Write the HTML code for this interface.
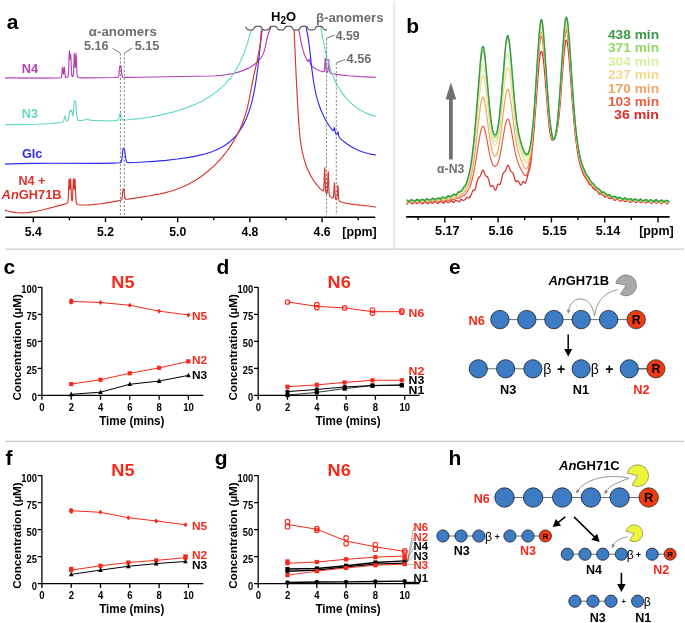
<!DOCTYPE html><html><head><meta charset="utf-8"><style>html,body{margin:0;padding:0;background:#fff;}svg{display:block;will-change:transform;font-family:"Liberation Sans",sans-serif;}</style></head><body>
<svg width="685" height="623" viewBox="0 0 685 623">
<rect width="685" height="623" fill="#fff"/>
<line x1="394.1" y1="1.2" x2="394.1" y2="249.1" stroke="#dcdcdc" stroke-width="1.2" />
<line x1="4.9" y1="249.1" x2="684" y2="249.1" stroke="#cecece" stroke-width="1.2" />
<line x1="4.9" y1="441.4" x2="684" y2="441.4" stroke="#c6c6c6" stroke-width="1.2" />
<path d="M5,77.94L45.3,78.12L56.6,78.04L60.3,77.84L60.8,77.71L61.1,77.51L61.3,77.19L61.5,76.52L61.8,74.33L62.3,68.31L62.5,67.27L62.7,68.19L63.2,73.4L63.4,74.08L63.6,73.38L64.1,68.14L64.3,67.2L64.5,68.23L65.1,75.11L65.4,76.75L65.6,77.19L66,77.46L66.6,77.49L67.3,77.33L67.7,77.08L68,76.6L68.2,75.81L68.4,74.13L68.7,68.69L69.2,53.62L69.4,50.71L69.5,50.98L69.9,57.75L70.1,59.3L70.2,58.96L70.6,54.53L70.7,54.43L70.9,57.01L71.6,73.25L71.9,75.77L72.1,76.4L72.3,76.65L72.5,76.73L72.9,76.55L73.1,76.12L73.3,75.1L73.5,72.99L74.2,55.61L74.4,53.23L74.6,55.3L75,64.95L75.2,67.43L75.3,67.47L75.4,66.68L75.9,55.81L76.1,53.8L76.3,56.16L76.9,71.69L77.2,75.42L77.4,76.47L77.7,77.09L78.3,77.47L79.3,77.69L81.2,77.83L84.7,77.88L101.9,77.75L114.4,77.55L116.6,77.44L117.8,77.25L118.2,77.06L118.4,76.83L118.8,75.52L119.1,73.12L119.6,67.29L119.8,66.02L119.9,65.88L120.4,67.03L120.8,66.02L120.9,65.87L121,66L121.2,67.27L121.8,74.04L122.2,76.33L122.4,76.78L122.7,77.06L124,77.32L128.1,77.38L140.9,77.22L209.3,76.02L215.7,75.73L221.2,75.31L226.2,74.72L230.9,73.94L235.5,72.92L239.9,71.64L244,70.14L247.9,68.38L251.4,66.44L254.5,64.33L257.2,62.07L259.5,59.66L260.9,57.86L262.1,55.99L263.2,53.85L264,51.83L265.1,47.82L266.5,40.58L267.2,37.54L267.9,35.25L269.9,29.79L270.6,26.87" fill="none" stroke="#b543b6" stroke-width="1.15" stroke-linejoin="round"/>
<path d="M298,26.06L298.1,26.21L298.6,28.69L300.6,39.86L301.7,45.22L303,50.25L304.5,54.7L305.4,56.85L306.3,58.7L307.3,60.44L308,61.38L308.3,61.49L308.5,61.31L309.2,59.16L309.3,59.02L309.4,59.05L309.6,59.66L310.3,63.55L310.7,64.71L311.2,65.43L312.1,66.33L314.4,68.1L316.9,69.52L319.8,70.74L322.7,71.59L323.6,71.69L324,71.56L324.3,70.93L324.5,69.68L325.1,59.84L325.3,58.14L325.5,59.91L326.1,69.99L326.4,71.67L326.6,72.04L326.9,72.24L327.3,72.27L327.5,72.13L327.8,71.19L328.1,68.16L328.5,61.15L328.7,59.55L328.9,61.25L329.3,68.44L329.6,71.61L329.9,72.7L330.2,73.03L330.6,73.23L332.7,73.74L337.2,74.43L342.8,75.14L348.8,75.76L360.4,76.64L375.7,77.42" fill="none" stroke="#b543b6" stroke-width="1.15" stroke-linejoin="round"/>
<path d="M5,124.67L20.6,124.63L35.5,124.24L50.2,123.45L56.9,122.92L61.2,122.45L62.6,122.16L63,121.93L63.3,121.58L63.8,120.37L64.7,116.59L65,116.06L65.3,116.49L66,119.29L66.4,120.51L66.8,121.1L67.1,121.24L67.4,121.21L67.7,121.01L68,120.58L68.4,119.35L68.8,117.07L69.5,111.78L69.7,110.79L69.9,110.38L70.1,110.48L70.5,111.19L70.7,111.3L70.9,111.1L71.4,110.03L71.5,109.98L71.6,110.05L71.9,111.11L72.6,115.28L72.8,115.75L72.9,115.73L73,115.51L73.4,112.56L74.1,103.03L74.3,101.39L74.5,100.84L75,101.42L75.4,101.19L75.5,101.22L75.7,101.87L76,104.76L76.8,115.72L77.3,118.98L77.6,119.74L78,120.14L78.6,120.34L79.6,120.45L81.6,120.43L83.2,120.27L84.3,119.98L86.1,119.26L86.8,119.14L87.6,119.27L90,120.1L92.3,120.33L103.1,120.73L108.1,120.82L113.3,120.72L117.1,120.42L117.9,120.15L118.2,119.87L118.5,119.39L119,117.91L119.8,114.4L120,113.83L120.2,113.61L120.4,113.8L120.6,114.35L121.4,117.75L121.8,118.96L122.2,119.62L122.8,119.97L124.4,120.02L128.2,119.77L139.3,118.57L146.7,117.54L153.7,116.39L160.4,115.1L166.9,113.65L173.1,112.07L179.1,110.31L184.8,108.42L190.2,106.4L196.6,103.66L202.6,100.69L208.2,97.49L213.5,94.01L218.4,90.28L222.9,86.33L227,82.15L230.7,77.74L234,73.12L237,68.18L239.8,62.82L242.5,56.83L245,50.42L247.3,43.68L249.5,36.38L252.3,26.16" fill="none" stroke="#66d8c6" stroke-width="1.15" stroke-linejoin="round"/>
<path d="M320.6,26.11L323,39.65L324.7,48.25L326.6,56.46L328.6,63.75L330.9,70.77L333.5,77.4L336.3,83.35L339.3,88.7L341,91.35L342.8,93.91L344.7,96.37L346.6,98.61L348.6,100.76L350.7,102.81L352.9,104.75L355.1,106.51L357.4,108.17L359.8,109.72L362.3,111.16L364.8,112.44L367.4,113.6L370.1,114.65L372.9,115.58L375.7,116.37" fill="none" stroke="#66d8c6" stroke-width="1.15" stroke-linejoin="round"/>
<path d="M5,164.18L19.2,163.65L34.7,163.35L52,163.25L99.8,163.31L113.4,163.12L117.1,162.99L119.3,162.8L120.3,162.6L120.8,162.35L121.2,161.82L121.5,160.98L122,158.08L122.9,149.62L123.1,148.52L123.2,148.22L123.4,148.05L124.3,148.94L124.6,149.71L124.9,151.57L125.6,157.74L126,160.23L126.5,161.76L126.8,162.14L127.1,162.32L127.9,162.5L129.3,162.59L134.4,162.5L144,162.05L154.1,161.37L165.9,160.33L177.4,159.04L187.4,157.64L195.8,156.13L203.1,154.43L209.6,152.49L212.6,151.42L215.5,150.26L218.3,149L220.9,147.68L223.4,146.27L225.7,144.83L228,143.21L230.1,141.56L232.1,139.8L233.9,138.04L235.7,136.07L237.4,134L239.1,131.7L240.7,129.3L242.3,126.64L243.8,123.89L245.2,121.04L246.6,117.89L249,111.61L250.9,105.55L252.6,98.97L254.2,91.42L255.7,82.89L256.8,75.49L257.8,67.75L261,38.92L262.5,27" fill="none" stroke="#2b2bf2" stroke-width="1.15" stroke-linejoin="round"/>
<path d="M306.1,27.12L307.4,33.54L308.6,40.96L309.7,49.44L311.7,67.58L312.6,74.97L313.8,83.12L315.2,90.63L316.2,95.05L317.2,98.9L318.3,102.64L319.5,106.25L320.8,109.73L322.2,113.09L323.7,116.32L325.4,119.61L327.1,122.57L328.8,125.26L330.7,127.96L332.4,130.11L333,130.68L333.2,130.71L333.4,130.56L333.7,129.8L334.2,127.77L334.3,127.59L334.4,127.6L334.6,128.23L335.3,132.41L335.6,133.42L336,134.12L336.5,134.59L336.7,134.63L336.9,134.49L337.2,133.81L337.7,131.98L337.8,131.82L337.9,131.82L338.1,132.39L338.8,136.16L339.1,137.06L339.4,137.58L340.4,138.64L342.4,140.41L346.8,143.78L350.1,145.95L353.6,147.96L357.1,149.69L360.7,151.2L364.4,152.49L368.1,153.53L371.9,154.33L375.7,154.89" fill="none" stroke="#2b2bf2" stroke-width="1.15" stroke-linejoin="round"/>
<path d="M5,210.1L7.7,210.97L10.4,211.66L13.2,212.19L16.1,212.57L19.1,212.78L22.1,212.82L25.3,212.71L28.6,212.43L35,211.49L42.2,209.98L63.8,204.36L65.5,203.87L66.6,203.44L67.3,203L67.7,202.39L67.9,201.63L68.1,200.07L68.4,195.1L68.9,181.46L69.1,178.96L69.3,180.69L69.7,188.36L69.8,189.16L69.9,189.13L70.1,186.71L70.4,180.4L70.6,178.57L70.8,180.95L71.4,196.29L71.6,199.04L71.9,200.72L72,200.87L72.1,200.87L72.3,200.39L72.6,197.85L73.3,180.94L73.5,178.56L73.7,180.4L74,186.74L74.2,189.19L74.3,189.23L74.4,188.44L74.9,179.54L75,179.19L75.1,179.96L75.9,199.34L76.2,202.25L76.5,203.33L76.8,203.8L77.3,204.25L77.9,204.58L78.6,204.8L80.6,205.01L84.3,205.04L88.1,204.92L92.2,204.65L100.9,203.7L106.9,202.81L113.9,201.63L119,200.66L121,200.12L121.4,199.89L121.6,199.65L121.9,198.89L122.3,196.31L123,189.47L123.2,188.96L123.7,188.87L123.9,188.97L124.1,189.88L124.7,195.9L125,197.94L125.2,198.64L125.4,199L125.6,199.17L126,199.26L127.3,199.21L129.8,198.88L148.7,195.98L157.2,194.44L164.5,192.83L169.7,191.47L174.6,189.96L179.2,188.31L183.6,186.49L188,184.4L192.4,182.05L196.6,179.53L200.8,176.73L204.1,174.32L207.3,171.8L210.4,169.16L213.4,166.42L216.3,163.57L219.2,160.51L222,157.33L224.6,154.16L227.2,150.76L229.6,147.38L231.9,143.89L234.1,140.29L236.2,136.57L238.1,132.92L239.9,129.15L241.6,125.24L243.9,119.24L245.8,113.36L247.5,107.05L249.2,99.48L253.4,77.54L257.8,57.51L259.4,49.28L260.2,44.13L260.7,39.9L261,36.24L261.2,30.51" fill="none" stroke="#d8352f" stroke-width="1.15" stroke-linejoin="round"/>
<path d="M293.8,25.9L293.9,25.9L294,27.63L295.7,66.46L297.2,96.32L298.7,121.71L299.7,134.02L300.3,139.36L301.1,145.03L302,150.14L303,154.78L304.1,159.05L305.4,163.31L306.8,167.2L308.4,171.02L309.9,174.14L311.6,177.25L313.4,180.16L315.4,183.02L317.7,185.92L320.1,188.55L322.1,190.39L322.8,190.84L323.2,190.94L323.4,190.8L323.6,190.23L323.9,187.27L324.5,170.52L324.7,167.84L324.9,170.82L325.3,183.81L325.6,190.02L325.8,191.88L326,192.74L326.3,193.28L326.7,193.54L326.9,193.45L327.1,192.93L327.4,190.11L328,174.06L328.2,171.5L328.4,174.37L328.9,189.36L329.1,192.83L329.3,194.63L329.5,195.48L329.9,196.19L330.7,196.93L331.8,197.64L332.6,197.97L333,197.98L333.2,197.77L333.4,197.11L333.7,194.3L334.2,184.49L334.4,182.71L334.6,184.67L335,193.23L335.3,197.31L335.6,198.86L335.8,199.24L336.1,199.5L336.5,199.58L336.7,199.4L337,198.21L337.3,194.64L337.7,186.95L337.9,185.29L338.1,187.13L338.5,195.17L338.8,199.02L339,200.17L339.2,200.71L339.5,201.08L339.9,201.35L341.4,201.99L343.7,202.68L346.4,203.3L349.5,203.87L355.2,204.62L369,206L372.6,206.51L375.7,207.08" fill="none" stroke="#d8352f" stroke-width="1.15" stroke-linejoin="round"/>
<path d="M245.5,26.79L245.7,26.97L245.9,27.19L246.1,27.44L246.3,27.72L246.5,28.02L246.7,28.33L246.9,28.62L247.1,28.89L247.3,29.12L247.5,29.32L247.7,29.49L247.9,29.62L248.1,29.73L248.3,29.81L248.5,29.87L248.7,29.92L248.9,29.96L249.1,29.98L249.3,30.01L249.5,30.02L249.7,30.03L249.9,30.04L250.1,30.05L250.3,30.05L250.5,30.05L250.7,30.05L250.9,30.04L251.1,30.03L251.3,30.02L251.5,30L251.7,29.98L251.9,29.95L252.1,29.91L252.3,29.86L252.5,29.79L252.7,29.7L252.9,29.59L253.1,29.45L253.3,29.28L253.5,29.07L253.7,28.82L253.9,28.55L254.1,28.25L254.3,27.95L254.5,27.65L254.7,27.38L254.9,27.13L255.1,26.92L255.3,26.75L255.5,26.61L255.7,26.5L255.9,26.41L256.1,26.34L256.3,26.29L256.5,26.25L256.7,26.22L256.9,26.2L257.1,26.18L257.3,26.17L257.5,26.16L257.7,26.15L257.9,26.15L258.1,26.15L258.3,26.15L258.5,26.16L258.7,26.17L258.9,26.18L259.1,26.19L259.3,26.22L259.5,26.24L259.7,26.28L259.9,26.33L260.1,26.39L260.3,26.47L260.5,26.58L260.7,26.71L260.9,26.88L261.1,27.08L261.3,27.31L261.5,27.58L261.7,27.87L261.9,28.18L262.1,28.48L262.3,28.76L262.5,29.01L262.7,29.23L262.9,29.41L263.1,29.56L263.3,29.68L263.5,29.77L263.7,29.84L263.9,29.9L264.1,29.94L264.3,29.97L264.5,30L264.7,30.02L264.9,30.03L265.1,30.04L265.3,30.05L265.5,30.05L265.7,30.05L265.9,30.05L266.1,30.04L266.3,30.04L266.5,30.03L266.7,30.01L266.9,29.99L267.1,29.96L267.3,29.93L267.5,29.88L267.7,29.82L267.9,29.75L268.1,29.65L268.3,29.52L268.5,29.37L268.7,29.18L268.9,28.95L269.1,28.69L269.3,28.4L269.5,28.1L269.7,27.8L269.9,27.51L270.1,27.25L270.3,27.02L270.5,26.83L270.7,26.68L270.9,26.55L271.1,26.45L271.3,26.38L271.5,26.32L271.7,26.27L271.9,26.24L272.1,26.21L272.3,26.19L272.5,26.17L272.7,26.16L272.9,26.16L273.1,26.15L273.3,26.15L273.5,26.15L273.7,26.15L273.9,26.16L274.1,26.17L274.3,26.18L274.5,26.2L274.7,26.23L274.9,26.26L275.1,26.3L275.3,26.36L275.5,26.43L275.7,26.52L275.9,26.64L276.1,26.79L276.3,26.97L276.5,27.19L276.7,27.44L276.9,27.72L277.1,28.02L277.3,28.33L277.5,28.62L277.7,28.89L277.9,29.12L278.1,29.32L278.3,29.49L278.5,29.62L278.7,29.73L278.9,29.81L279.1,29.87L279.3,29.92L279.5,29.96L279.7,29.98L279.9,30.01L280.1,30.02L280.3,30.03L280.5,30.04L280.7,30.05L280.9,30.05L281.1,30.05L281.3,30.05L281.5,30.04L281.7,30.03L281.9,30.02L282.1,30L282.3,29.98L282.5,29.95L282.7,29.91L282.9,29.86L283.1,29.79L283.3,29.7L283.5,29.59L283.7,29.45L283.9,29.28L284.1,29.07L284.3,28.82L284.5,28.55L284.7,28.25L284.9,27.95L285.1,27.65L285.3,27.38L285.5,27.13L285.7,26.92L285.9,26.75L286.1,26.61L286.3,26.5L286.5,26.41L286.7,26.34L286.9,26.29L287.1,26.25L287.3,26.22L287.5,26.2L287.7,26.18L287.9,26.17L288.1,26.16L288.3,26.15L288.5,26.15L288.7,26.15L288.9,26.15L289.1,26.16L289.3,26.17L289.5,26.18L289.7,26.19L289.9,26.22L290.1,26.24L290.3,26.28L290.5,26.33L290.7,26.39L290.9,26.47L291.1,26.58L291.3,26.71L291.5,26.88L291.7,27.08L291.9,27.31L292.1,27.58L292.3,27.87L292.5,28.18L292.7,28.48L292.9,28.76L293.1,29.01L293.3,29.23L293.5,29.41L293.7,29.56L293.9,29.68L294.1,29.77L294.3,29.84L294.5,29.9L294.7,29.94L294.9,29.97L295.1,30L295.3,30.02L295.5,30.03L295.7,30.04L295.9,30.05L296.1,30.05L296.3,30.05L296.5,30.05L296.7,30.04L296.9,30.04L297.1,30.03L297.3,30.01L297.5,29.99L297.7,29.96L297.9,29.93L298.1,29.88L298.3,29.82L298.5,29.75L298.7,29.65L298.9,29.52L299.1,29.37L299.3,29.18L299.5,28.95L299.7,28.69L299.9,28.4L300.1,28.1L300.3,27.8L300.5,27.51L300.7,27.25L300.9,27.02L301.1,26.83L301.3,26.68L301.5,26.55L301.7,26.45L301.9,26.38L302.1,26.32L302.3,26.27L302.5,26.24L302.7,26.21L302.9,26.19L303.1,26.17L303.3,26.16L303.5,26.16L303.7,26.15L303.9,26.15L304.1,26.15L304.3,26.15L304.5,26.16L304.7,26.17L304.9,26.18L305.1,26.2L305.3,26.23L305.5,26.26L305.7,26.3L305.9,26.36L306.1,26.43L306.3,26.52L306.5,26.64L306.7,26.79L306.9,26.97L307.1,27.19L307.3,27.44L307.5,27.72L307.7,28.02L307.9,28.33L308.1,28.62L308.3,28.89L308.5,29.12L308.7,29.32L308.9,29.49L309.1,29.62L309.3,29.73L309.5,29.81L309.7,29.87L309.9,29.92L310.1,29.96L310.3,29.98L310.5,30.01L310.7,30.02L310.9,30.03L311.1,30.04L311.3,30.05L311.5,30.05L311.7,30.05L311.9,30.05L312.1,30.04L312.3,30.03L312.5,30.02L312.7,30L312.9,29.98L313.1,29.95L313.3,29.91L313.5,29.86L313.7,29.79L313.9,29.7L314.1,29.59L314.3,29.45L314.5,29.28L314.7,29.07L314.9,28.82L315.1,28.55L315.3,28.25L315.5,27.95L315.7,27.65L315.9,27.38L316.1,27.13L316.3,26.92L316.5,26.75L316.7,26.61L316.9,26.5L317.1,26.41L317.3,26.34L317.5,26.29L317.7,26.25L317.9,26.22L318.1,26.2L318.3,26.18L318.5,26.17L318.7,26.16L318.9,26.15L319.1,26.15L319.3,26.15L319.5,26.15L319.7,26.16L319.9,26.17L320.1,26.18L320.3,26.19L320.5,26.22L320.7,26.24L320.9,26.28L321.1,26.33L321.3,26.39L321.5,26.47L321.7,26.58L321.9,26.71L322.1,26.88L322.3,27.08L322.5,27.31L322.7,27.58L322.9,27.87L323.1,28.18L323.3,28.48L323.5,28.76L323.7,29.01L323.9,29.23L324.1,29.41L324.3,29.56L324.5,29.68L324.7,29.77L324.9,29.84L325.1,29.9L325.3,29.94L325.5,29.97L325.7,30L325.9,30.02L326.1,30.03L326.3,30.04L326.5,30.05L326.7,30.05L326.9,30.05L327,29.55L327,0L245.5,0Z" fill="#fff"/>
<path d="M245.5,26.79L245.7,26.97L245.9,27.19L246.1,27.44L246.3,27.72L246.5,28.02L246.7,28.33L246.9,28.62L247.1,28.89L247.3,29.12L247.5,29.32L247.7,29.49L247.9,29.62L248.1,29.73L248.3,29.81L248.5,29.87L248.7,29.92L248.9,29.96L249.1,29.98L249.3,30.01L249.5,30.02L249.7,30.03L249.9,30.04L250.1,30.05L250.3,30.05L250.5,30.05L250.7,30.05L250.9,30.04L251.1,30.03L251.3,30.02L251.5,30L251.7,29.98L251.9,29.95L252.1,29.91L252.3,29.86L252.5,29.79L252.7,29.7L252.9,29.59L253.1,29.45L253.3,29.28L253.5,29.07L253.7,28.82L253.9,28.55L254.1,28.25L254.3,27.95L254.5,27.65L254.7,27.38L254.9,27.13L255.1,26.92L255.3,26.75L255.5,26.61L255.7,26.5L255.9,26.41L256.1,26.34L256.3,26.29L256.5,26.25L256.7,26.22L256.9,26.2L257.1,26.18L257.3,26.17L257.5,26.16L257.7,26.15L257.9,26.15L258.1,26.15L258.3,26.15L258.5,26.16L258.7,26.17L258.9,26.18L259.1,26.19L259.3,26.22L259.5,26.24L259.7,26.28L259.9,26.33L260.1,26.39L260.3,26.47L260.5,26.58L260.7,26.71L260.9,26.88L261.1,27.08L261.3,27.31L261.5,27.58L261.7,27.87L261.9,28.18L262.1,28.48L262.3,28.76L262.5,29.01L262.7,29.23L262.9,29.41L263.1,29.56L263.3,29.68L263.5,29.77L263.7,29.84L263.9,29.9L264.1,29.94L264.3,29.97L264.5,30L264.7,30.02L264.9,30.03L265.1,30.04L265.3,30.05L265.5,30.05L265.7,30.05L265.9,30.05L266.1,30.04L266.3,30.04L266.5,30.03L266.7,30.01L266.9,29.99L267.1,29.96L267.3,29.93L267.5,29.88L267.7,29.82L267.9,29.75L268.1,29.65L268.3,29.52L268.5,29.37L268.7,29.18L268.9,28.95L269.1,28.69L269.3,28.4L269.5,28.1L269.7,27.8L269.9,27.51L270.1,27.25L270.3,27.02L270.5,26.83L270.7,26.68L270.9,26.55L271.1,26.45L271.3,26.38L271.5,26.32L271.7,26.27L271.9,26.24L272.1,26.21L272.3,26.19L272.5,26.17L272.7,26.16L272.9,26.16L273.1,26.15L273.3,26.15L273.5,26.15L273.7,26.15L273.9,26.16L274.1,26.17L274.3,26.18L274.5,26.2L274.7,26.23L274.9,26.26L275.1,26.3L275.3,26.36L275.5,26.43L275.7,26.52L275.9,26.64L276.1,26.79L276.3,26.97L276.5,27.19L276.7,27.44L276.9,27.72L277.1,28.02L277.3,28.33L277.5,28.62L277.7,28.89L277.9,29.12L278.1,29.32L278.3,29.49L278.5,29.62L278.7,29.73L278.9,29.81L279.1,29.87L279.3,29.92L279.5,29.96L279.7,29.98L279.9,30.01L280.1,30.02L280.3,30.03L280.5,30.04L280.7,30.05L280.9,30.05L281.1,30.05L281.3,30.05L281.5,30.04L281.7,30.03L281.9,30.02L282.1,30L282.3,29.98L282.5,29.95L282.7,29.91L282.9,29.86L283.1,29.79L283.3,29.7L283.5,29.59L283.7,29.45L283.9,29.28L284.1,29.07L284.3,28.82L284.5,28.55L284.7,28.25L284.9,27.95L285.1,27.65L285.3,27.38L285.5,27.13L285.7,26.92L285.9,26.75L286.1,26.61L286.3,26.5L286.5,26.41L286.7,26.34L286.9,26.29L287.1,26.25L287.3,26.22L287.5,26.2L287.7,26.18L287.9,26.17L288.1,26.16L288.3,26.15L288.5,26.15L288.7,26.15L288.9,26.15L289.1,26.16L289.3,26.17L289.5,26.18L289.7,26.19L289.9,26.22L290.1,26.24L290.3,26.28L290.5,26.33L290.7,26.39L290.9,26.47L291.1,26.58L291.3,26.71L291.5,26.88L291.7,27.08L291.9,27.31L292.1,27.58L292.3,27.87L292.5,28.18L292.7,28.48L292.9,28.76L293.1,29.01L293.3,29.23L293.5,29.41L293.7,29.56L293.9,29.68L294.1,29.77L294.3,29.84L294.5,29.9L294.7,29.94L294.9,29.97L295.1,30L295.3,30.02L295.5,30.03L295.7,30.04L295.9,30.05L296.1,30.05L296.3,30.05L296.5,30.05L296.7,30.04L296.9,30.04L297.1,30.03L297.3,30.01L297.5,29.99L297.7,29.96L297.9,29.93L298.1,29.88L298.3,29.82L298.5,29.75L298.7,29.65L298.9,29.52L299.1,29.37L299.3,29.18L299.5,28.95L299.7,28.69L299.9,28.4L300.1,28.1L300.3,27.8L300.5,27.51L300.7,27.25L300.9,27.02L301.1,26.83L301.3,26.68L301.5,26.55L301.7,26.45L301.9,26.38L302.1,26.32L302.3,26.27L302.5,26.24L302.7,26.21L302.9,26.19L303.1,26.17L303.3,26.16L303.5,26.16L303.7,26.15L303.9,26.15L304.1,26.15L304.3,26.15L304.5,26.16L304.7,26.17L304.9,26.18L305.1,26.2L305.3,26.23L305.5,26.26L305.7,26.3L305.9,26.36L306.1,26.43L306.3,26.52L306.5,26.64L306.7,26.79L306.9,26.97L307.1,27.19L307.3,27.44L307.5,27.72L307.7,28.02L307.9,28.33L308.1,28.62L308.3,28.89L308.5,29.12L308.7,29.32L308.9,29.49L309.1,29.62L309.3,29.73L309.5,29.81L309.7,29.87L309.9,29.92L310.1,29.96L310.3,29.98L310.5,30.01L310.7,30.02L310.9,30.03L311.1,30.04L311.3,30.05L311.5,30.05L311.7,30.05L311.9,30.05L312.1,30.04L312.3,30.03L312.5,30.02L312.7,30L312.9,29.98L313.1,29.95L313.3,29.91L313.5,29.86L313.7,29.79L313.9,29.7L314.1,29.59L314.3,29.45L314.5,29.28L314.7,29.07L314.9,28.82L315.1,28.55L315.3,28.25L315.5,27.95L315.7,27.65L315.9,27.38L316.1,27.13L316.3,26.92L316.5,26.75L316.7,26.61L316.9,26.5L317.1,26.41L317.3,26.34L317.5,26.29L317.7,26.25L317.9,26.22L318.1,26.2L318.3,26.18L318.5,26.17L318.7,26.16L318.9,26.15L319.1,26.15L319.3,26.15L319.5,26.15L319.7,26.16L319.9,26.17L320.1,26.18L320.3,26.19L320.5,26.22L320.7,26.24L320.9,26.28L321.1,26.33L321.3,26.39L321.5,26.47L321.7,26.58L321.9,26.71L322.1,26.88L322.3,27.08L322.5,27.31L322.7,27.58L322.9,27.87L323.1,28.18L323.3,28.48L323.5,28.76L323.7,29.01L323.9,29.23L324.1,29.41L324.3,29.56L324.5,29.68L324.7,29.77L324.9,29.84L325.1,29.9L325.3,29.94L325.5,29.97L325.7,30L325.9,30.02L326.1,30.03L326.3,30.04L326.5,30.05L326.7,30.05L326.9,30.05" fill="none" stroke="#3c3c3c" stroke-width="1.05"/>
<line x1="120.4" y1="53.2" x2="120.4" y2="215" stroke="#666" stroke-width="0.8" stroke-dasharray="2.3,1.8"/>
<line x1="124.3" y1="53.2" x2="124.3" y2="215" stroke="#666" stroke-width="0.8" stroke-dasharray="2.3,1.8"/>
<line x1="326.5" y1="38.3" x2="326.5" y2="215" stroke="#666" stroke-width="0.8" stroke-dasharray="2.3,1.8"/>
<line x1="336.3" y1="62.8" x2="336.3" y2="215" stroke="#666" stroke-width="0.8" stroke-dasharray="2.3,1.8"/>
<path d="M112.6,48.2L120.4,53.2M132,48.2L124.3,53.2M334.7,35.1L326.5,38.3M345.2,59.4L336.3,62.8" stroke="#666" stroke-width="0.9" fill="none"/>
<text x="122.8" y="35.8" font-size="12.6" fill="#6e6e6e" text-anchor="middle" font-weight="bold" textLength="68" lengthAdjust="spacingAndGlyphs" >&#945;-anomers</text>
<text x="96.3" y="50.4" font-size="12.6" fill="#6e6e6e" text-anchor="middle" font-weight="bold" textLength="24.5" lengthAdjust="spacingAndGlyphs" >5.16</text>
<text x="147" y="50.4" font-size="12.6" fill="#6e6e6e" text-anchor="middle" font-weight="bold" textLength="24.5" lengthAdjust="spacingAndGlyphs" >5.15</text>
<text x="349.8" y="21.8" font-size="12.6" fill="#6e6e6e" text-anchor="middle" font-weight="bold" textLength="67.5" lengthAdjust="spacingAndGlyphs" >&#946;-anomers</text>
<text x="347.6" y="39.7" font-size="12.6" fill="#6e6e6e" text-anchor="middle" font-weight="bold" textLength="23.8" lengthAdjust="spacingAndGlyphs" >4.59</text>
<text x="359" y="63.4" font-size="12.6" fill="#6e6e6e" text-anchor="middle" font-weight="bold" textLength="24.8" lengthAdjust="spacingAndGlyphs" >4.56</text>
<text x="271" y="20.8" font-size="13" font-weight="bold" fill="#000">H<tspan font-size="10" dy="2.9">2</tspan><tspan dy="-2.9">O</tspan></text>
<text x="30" y="72.7" font-size="12" fill="#b543b6" text-anchor="middle" font-weight="bold" textLength="16.3" lengthAdjust="spacingAndGlyphs" >N4</text>
<text x="30" y="117.7" font-size="12" fill="#66d8c6" text-anchor="middle" font-weight="bold" textLength="16.3" lengthAdjust="spacingAndGlyphs" >N3</text>
<text x="32.2" y="157.6" font-size="12" fill="#2b2bf2" text-anchor="middle" font-weight="bold" textLength="20.5" lengthAdjust="spacingAndGlyphs" >Glc</text>
<text x="31.9" y="184.8" font-size="12" fill="#d8352f" text-anchor="middle" font-weight="bold" textLength="27" lengthAdjust="spacingAndGlyphs" >N4 +</text>
<text x="1.6" y="198.5" font-size="12" font-weight="bold" fill="#d8352f" textLength="60" lengthAdjust="spacingAndGlyphs"><tspan font-style="italic">An</tspan>GH71B</text>
<line x1="5.3" y1="217.3" x2="375.2" y2="217.3" stroke="#000" stroke-width="1.6" />
<line x1="33.3" y1="217" x2="33.3" y2="222.2" stroke="#000" stroke-width="1.4" />
<line x1="69.4" y1="217" x2="69.4" y2="220.3" stroke="#000" stroke-width="1.4" />
<line x1="105.5" y1="217" x2="105.5" y2="222.2" stroke="#000" stroke-width="1.4" />
<line x1="141.6" y1="217" x2="141.6" y2="220.3" stroke="#000" stroke-width="1.4" />
<line x1="177.7" y1="217" x2="177.7" y2="222.2" stroke="#000" stroke-width="1.4" />
<line x1="213.8" y1="217" x2="213.8" y2="220.3" stroke="#000" stroke-width="1.4" />
<line x1="249.9" y1="217" x2="249.9" y2="222.2" stroke="#000" stroke-width="1.4" />
<line x1="286" y1="217" x2="286" y2="220.3" stroke="#000" stroke-width="1.4" />
<line x1="322.1" y1="217" x2="322.1" y2="222.2" stroke="#000" stroke-width="1.4" />
<line x1="358.2" y1="217" x2="358.2" y2="220.3" stroke="#000" stroke-width="1.4" />
<text x="33.3" y="236.1" font-size="12.6" fill="#000" text-anchor="middle" font-weight="bold" textLength="17" lengthAdjust="spacingAndGlyphs" >5.4</text>
<text x="105.5" y="236.1" font-size="12.6" fill="#000" text-anchor="middle" font-weight="bold" textLength="17" lengthAdjust="spacingAndGlyphs" >5.2</text>
<text x="177.7" y="236.1" font-size="12.6" fill="#000" text-anchor="middle" font-weight="bold" textLength="17" lengthAdjust="spacingAndGlyphs" >5.0</text>
<text x="249.9" y="236.1" font-size="12.6" fill="#000" text-anchor="middle" font-weight="bold" textLength="17" lengthAdjust="spacingAndGlyphs" >4.8</text>
<text x="322.1" y="236.1" font-size="12.6" fill="#000" text-anchor="middle" font-weight="bold" textLength="17" lengthAdjust="spacingAndGlyphs" >4.6</text>
<text x="359.5" y="236.1" font-size="12.6" fill="#000" text-anchor="middle" font-weight="bold" textLength="34.5" lengthAdjust="spacingAndGlyphs" >[ppm]</text>
<text x="6.7" y="28.6" font-size="21" fill="#000" text-anchor="start" font-weight="bold" >a</text>
<path d="M406.5,204.13L406.75,204.27L407.25,204.03L408.25,202.53L408.5,202.26L409,202.08L411,203.02L412.25,203.84L412.75,203.83L413.25,203.33L414,202.1L414.5,201.64L415,201.83L416,203.27L416.25,203.53L416.75,203.72L418.75,202.81L420,201.89L420.5,201.85L421,202.32L421.75,203.54L422.25,204.01L422.75,203.84L423.75,202.4L424.25,201.96L424.5,201.9L426.5,202.65L427.75,203.58L428.25,203.62L428.75,203.14L429.75,201.56L430.25,201.35L430.75,201.76L431.75,203.1L432.25,203.32L434.25,202.56L435.5,201.51L436,201.41L436.5,201.84L437.5,203.37L438,203.58L438.5,203.17L439.5,201.8L440,201.53L442,202.05L443.25,203.06L443.75,203.15L444.25,202.7L445,201.43L445.5,200.86L446,200.89L447.25,202.35L447.5,202.52L448,202.58L449.75,201.95L451,200.76L451.5,200.57L452,200.93L453,202.41L453.5,202.64L454,202.28L455,200.93L455.5,200.61L456,200.57L457.5,200.78L458.75,201.73L459.25,201.83L459.75,201.38L460.75,199.67L461.25,199.27L461.75,199.44L462.75,200.38L463.25,200.52L464.5,200.04L465.25,199.56L466.5,197.87L467,197.41L467.5,197.44L468.25,198.02L468.75,198.16L469.25,197.74L470,196.29L470.25,197.01L470.5,196.55L472.5,191.18L473,190.25L473.5,189.91L474.5,190.03L475,189.49L475.5,188.13L477,181.75L477.75,179.38L478.5,177.97L479.75,176.72L480.25,176.05L480.75,174.98L482,171.32L482.5,170.33L482.75,170.1L483,170.09L483.5,170.65L485,174.55L485.5,175.46L486,175.96L487.25,176.65L488,177.83L488.75,180.18L490,185.21L490.5,186.36L490.75,186.59L491,186.6L492.25,185.46L492.75,185.61L493.25,186.38L494.75,189.59L495.25,190.03L495.5,190.03L495.75,189.86L496.25,189.03L497.5,185.29L498,184.27L498.5,183.99L499.5,184.58L499.75,184.57L500.25,184L500.75,182.62L502.25,176.33L503,173.85L503.75,172.47L504.75,171.71L505.25,171.15L505.75,170.16L507.25,166.08L507.75,165.42L508,165.37L508.25,165.52L508.75,166.34L510,169.75L510.75,171.25L511.25,171.79L512.5,172.56L513,173.25L513.75,175.27L515,180.04L515.5,181.28L515.75,181.59L516,181.71L516.25,181.67L517.5,180.77L518,180.89L518.75,181.83L520.25,184.66L520.75,185.06L521,185.03L521.5,184.47L522.5,182.31L523,181.62L523.25,181.53L523.5,181.62L524.75,183.06L525,183.16L525.25,183.09L525.5,182.84L526.25,181.13L528.25,173.46L529.75,168.71L530.75,163.08L532.5,147.28L534,130.79L538.75,67.05L539.75,57.68L540.25,54.46L540.75,52.34L541.25,51.38L541.5,51.34L542,52.16L542.75,55.5L543.5,61.05L544.75,74.14L548,114.71L549,124.69L549.75,130.65L550.5,135.16L551.25,138.25L552,139.96L552.5,140.4L553,140.34L553.75,139.62L554.75,138.05L555.5,136.52L556.25,134.4L557.25,130.12L558.25,123.61L559.25,114.49L560.25,103.15L563.25,63.44L564.25,51.7L565.25,43.36L565.75,40.98L566,40.31L566.25,40.01L566.5,40.09L566.75,40.53L567.25,42.47L567.75,45.68L568.5,52.42L569.5,63.99L572.5,104.39L574,122.39L575.75,139.23L577.5,152.26L578.5,157.9L579.75,163.51L581,167.87L582.75,172.83L584,175.74L585.75,178.27L589,183.78L589.75,184.64L591,185.11L591.5,185.57L593,188.24L593.75,189.1L595.5,190.26L596.75,190.58L597.25,190.94L598.75,193.55L599.25,194.04L599.75,194.04L600.75,193.65L601.25,193.78L603,195.15L604.5,196.88L605,197.17L605.5,196.99L606.5,196.06L607,196.08L607.5,196.62L608.5,198.1L609.25,198.54L611,198.59L612.25,197.9L612.75,197.92L613.25,198.46L614.25,200.13L614.75,200.45L615.25,200.21L616.25,199.23L617,199.13L618.75,199.83L620,201.13L620.5,201.33L621,200.98L622,199.58L622.5,199.4L623,199.78L624,201.07L624.5,201.36L626.25,201.32L626.75,201.07L627.75,200.14L628.25,200.02L628.75,200.47L629.5,201.74L630,202.34L630.5,202.35L631.75,201.06L632.5,200.82L633.75,201L634.25,201.21L635.5,202.54L636,202.76L636.5,202.4L637.5,200.87L638,200.59L638.5,200.88L639.5,202.08L640,202.37L640.5,202.45L641.5,202.46L642,202.32L643.25,201.06L643.75,200.86L644.25,201.24L645.25,202.88L645.75,203.24L646.25,203.02L647.5,201.77L648,201.63L649,201.61L649.75,201.79L651,203.19L651.5,203.47L652,203.15L653,201.57L653.5,201.21L654,201.44L655.25,202.73L655.75,202.92L657,203.08L657.75,202.78L658.75,201.59L659.25,201.3L659.75,201.63L660.75,203.27L661.25,203.67L661.75,203.5L663,202.32L664.75,201.96L665.5,202.27L666.5,203.55L667,203.89L667.5,203.62L668.75,201.75L669.25,201.63" fill="none" stroke="#d72e2b" stroke-width="1.2" stroke-linejoin="round"/>
<path d="M406.5,202.42L407.25,202.94L407.75,203L409.25,201.97L409.75,201.86L413.25,202.69L414,202.43L415,201.68L415.5,201.58L416,201.79L417,202.51L417.5,202.61L421,201.58L421.5,201.65L422.75,202.48L423.25,202.57L423.75,202.34L424.75,201.57L425.25,201.42L428.5,202.15L429,202.16L429.5,201.93L430.5,201.14L431,200.99L431.5,201.16L432.5,201.82L433,201.93L436.5,200.82L437,200.85L438.25,201.64L438.75,201.73L439.25,201.52L440.25,200.74L440.75,200.56L444.5,201.08L445,200.85L446,199.99L446.5,199.79L447,199.89L448,200.43L448.5,200.5L450.5,199.87L452.25,199.06L452.75,199.13L453.75,199.66L454.25,199.71L454.75,199.46L455.75,198.59L456.25,198.32L458.25,198.02L459.5,198.04L460,197.93L460.5,197.58L462,196.03L462.5,195.88L463.5,195.82L464.25,195.41L465.5,194.15L466.25,193.19L469.5,187.96L470.5,185.2L472.25,178.98L473.5,173.69L475,166.01L479,140.84L480.25,133.74L481.25,129.4L481.75,127.86L482.25,126.82L482.75,126.3L483,126.25L483.5,126.57L484.25,128.08L485,130.62L486.25,136.36L489.5,153.8L490.5,158.23L491.5,161.68L492.5,164.05L493.5,165.55L494.5,166.33L495,166.43L495.5,166.34L496.5,165.59L497.5,163.98L498.25,162.1L499.25,158.73L501,150.51L504,132.19L505.25,125.42L506,122.32L506.5,120.77L507.25,119.32L507.75,118.99L508.25,119.22L508.75,120L509.25,121.32L510,124.12L511.25,130.36L515,151.4L516.25,157.04L517.5,161.37L519.25,165.79L522,171.4L523,173.18L524,174.53L525,175.49L525.75,175.68L526.5,175.15L527.25,173.84L528,171.71L529.25,166.23L530.75,156.65L532,146L533.25,132.64L534.5,116.77L538.75,54.55L539.75,43.67L540.25,39.88L540.75,37.4L541.25,36.32L541.5,36.31L542,37.37L542.5,39.79L543.25,45.71L544.5,60.04L547.75,104.66L548.75,116.19L549.75,125.64L550.5,131.17L551.5,136.39L552,138.13L552.5,139.31L553,139.96L553.5,140.11L554,139.79L554.75,138.5L555.5,136.34L556,134.37L557,128.95L558,121.33L559.75,102.62L564,45.13L564.75,37.8L565.25,34.24L565.75,31.93L566.25,30.96L566.5,31L566.75,31.4L567.25,33.22L567.75,36.35L568.5,43.12L569.75,58.29L573.75,113.37L575.25,129.8L576.75,142.79L578.5,154.27L580.25,162.31L581.25,165.83L582.25,168.75L584,173.15L585,175.13L590,183.01L590.75,183.84L592.25,185.16L593.75,187.33L594.5,188.16L596.25,189.53L598,190.68L599.5,192.52L600,192.96L600.5,193.14L601.5,193.24L602,193.45L605.75,196.14L606.25,196.19L607.25,195.96L607.75,196.05L609.25,197.36L609.75,197.65L611.75,197.94L613.25,197.85L613.75,198.03L615,199.15L615.5,199.38L616,199.33L617,198.89L617.5,198.85L619.5,199.48L620.75,200.15L621.25,200.29L621.75,200.17L623,199.48L623.5,199.55L624.75,200.44L625.5,200.66L627.25,200.58L628.5,200.18L629,200.14L629.5,200.35L630.5,201.2L631,201.4L631.5,201.3L632.5,200.74L633.25,200.64L635,200.98L636.75,201.74L637.25,201.6L638.25,200.88L638.75,200.73L639.25,200.88L640.25,201.56L640.75,201.74L642.75,201.67L644.5,201.06L645,201.24L646,202.07L646.5,202.29L647,202.2L648.25,201.53L648.75,201.47L650.5,201.68L652.25,202.48L652.75,202.35L653.75,201.58L654.25,201.39L654.75,201.5L656,202.24L656.75,202.36L658.25,202.3L660,201.57L660.5,201.71L661.5,202.54L662,202.78L662.5,202.71L663.75,202.06L665.25,201.98L666.25,202.15L667.75,202.92L668.25,202.81L669.25,202.03" fill="none" stroke="#e8603f" stroke-width="1.2" stroke-linejoin="round"/>
<path d="M406.5,202.6L407,202.4L408,201.66L408.5,201.51L410.5,201.85L411.75,202.26L412.25,202.3L412.75,202.1L413.75,201.29L414.25,201.13L414.75,201.28L415.75,201.94L416.25,202.07L418.25,201.65L420,201.03L420.5,201.19L421.5,201.92L422,202.06L422.5,201.88L423.5,201.16L424.25,200.96L426,201.17L427.75,201.66L428.25,201.47L429.25,200.63L429.75,200.43L430.25,200.53L431.25,201.12L431.75,201.25L433.75,200.85L435.5,200.1L436,200.21L437,200.89L437.5,201.03L438,200.86L439.25,200.01L439.75,199.88L441.5,199.9L443.25,200.33L443.75,200.12L444.75,199.23L445.25,198.97L445.75,198.99L447,199.49L447.5,199.49L449.25,199L450.75,198.08L451.25,197.96L452.5,198.48L453,198.55L453.5,198.34L454.5,197.5L455.25,197.09L457,196.61L458.75,196.53L459.25,196.19L460.75,194.54L462.75,193.84L464.25,192.44L465.25,191.07L467.75,186.79L468.75,184.54L470.75,177.32L472.25,170.29L473.75,161.36L475,152.33L480.25,107.59L481.25,101.41L481.75,99.22L482.25,97.77L482.75,97.11L483,97.08L483.5,97.62L484.25,99.77L485,103.3L486.25,111.48L489.5,136.34L490.5,142.74L491.5,147.92L492.5,151.9L493.5,154.61L494.25,155.74L494.75,156.08L495.25,156.1L495.75,155.78L496.25,155.12L497,153.46L498,150.08L499,145.41L500.75,133.96L504,106.93L505.25,97.81L506,93.56L506.5,91.42L507.25,89.49L507.75,89.15L508.25,89.57L508.75,90.73L509.25,92.56L510,96.4L511.25,105.03L515,134.51L516.25,142.3L517.75,149.54L518.75,153.24L520.25,157.8L522,162.39L523.75,166.4L524.75,168.04L525.5,168.72L526.25,168.8L527,168.17L527.75,166.75L528.25,165.35L529.5,160.31L530.75,152.83L532,142.54L533.25,129.46L534.5,113.66L539,47.55L539.75,39.59L540.25,35.69L540.75,33.13L541.25,32.02L541.5,32.03L541.75,32.42L542.25,34.28L542.75,37.48L543.5,44.43L544.5,56.7L547.75,102.35L548.75,114.17L549.75,123.93L550.75,131.43L551.75,136.58L552.25,138.24L552.75,139.3L553.25,139.81L553.5,139.88L554,139.65L554.5,138.96L555,137.81L556,134.03L557,128.17L558,120.09L559,109.73L560,97.43L563,55.09L564,42.58L564.75,35.24L565.25,31.69L565.75,29.4L566,28.76L566.25,28.48L566.5,28.54L566.75,28.96L567.25,30.81L567.75,33.91L568.5,40.59L569.75,55.82L572.5,95.28L574,114.64L575.75,133.02L577.5,147L578.5,153.1L579.5,158.11L580.5,162.22L581.75,166.42L583,169.96L584,172.23L588.25,179.8L589.25,181.29L591,183.05L593.25,186.21L595,187.85L596.75,189.06L598.75,191.5L599.25,191.77L600.5,192.11L601,192.39L602.75,193.64L604.5,195.13L605,195.24L606,195.05L606.5,195.12L608.25,196.56L609.75,197.1L610.75,197.26L612.25,197.14L612.75,197.42L613.75,198.4L614.25,198.69L614.75,198.7L616,198.32L616.5,198.35L618.25,198.81L620,199.78L620.5,199.72L621.5,199.11L622,198.99L622.5,199.15L623.75,199.96L625.25,200.2L626.25,200.16L627.75,199.65L628.25,199.82L629.25,200.68L629.75,200.93L630.25,200.9L631.5,200.35L633,200.36L634,200.56L635.5,201.38L636,201.29L637,200.58L637.5,200.38L638,200.48L639.5,201.27L641,201.43L641.75,201.35L643,200.72L643.5,200.69L645,201.79L645.5,201.91L647.25,201.24L649,201.19L649.5,201.32L651,202.16L651.5,202.09L652.75,201.19L653.25,201.1L655,201.88L656.75,202.1L657.5,201.91L658.5,201.3L659,201.24L659.5,201.48L660.5,202.3L661,202.44L662.75,201.8L664.5,201.63L665,201.73L666.25,202.53L666.75,202.64L667.25,202.43L668.5,201.57L669.25,201.68" fill="none" stroke="#efa565" stroke-width="1.2" stroke-linejoin="round"/>
<path d="M406.5,201.69L407.25,202.16L407.75,202.14L409,201.22L409.75,201.03L413.25,201.8L413.75,201.63L414.75,200.86L415.25,200.67L415.75,200.79L417,201.6L417.5,201.64L421,200.58L421.5,200.7L422.5,201.37L423,201.53L423.5,201.38L424.5,200.6L425,200.38L425.5,200.38L428.75,201.02L429.25,200.85L430.25,200.05L430.75,199.81L431.25,199.88L432.5,200.6L433,200.64L436.5,199.43L437,199.5L438,200.11L438.5,200.26L439,200.11L440,199.32L440.75,199.01L442.75,199.12L444,199.36L444.5,199.29L446,198.1L446.5,197.93L448,198.46L448.5,198.44L450.5,197.64L452,196.76L452.5,196.7L453.75,197.12L454.25,197.04L455.75,195.73L456.25,195.43L459.75,194.4L460.5,193.73L461.75,192.11L463.75,190.83L465.25,188.7L466.75,185.63L468.5,181.1L469.25,178.79L470.75,172.16L472.25,163.57L473.75,152.71L475.25,139.55L479,99.94L480.25,87.87L481.5,79.04L482.25,76.05L482.75,75.21L483,75.14L483.25,75.33L483.75,76.41L484.25,78.38L485,82.76L486.25,92.69L489.5,122.46L491.25,134.83L492.25,139.69L493.25,142.99L493.75,144.11L494.25,144.87L494.75,145.27L495.25,145.3L495.75,144.97L496.25,144.28L497,142.53L497.75,139.85L498.75,134.8L499.75,128.16L500.75,119.99L504,87.89L505.5,75.36L506.25,70.98L507,68.22L507.5,67.38L507.75,67.28L508,67.4L508.25,67.74L508.75,69.06L509.25,71.2L510.25,77.57L511.25,85.96L515.25,123.49L516.5,132.71L517.75,139.87L518.75,144.4L520,148.98L521.75,154.53L523.25,158.58L524.5,161.17L525.5,162.48L526,162.78L526.5,162.8L527.25,162.28L528,161.03L528.5,159.74L529.75,154.8L531,147.32L532.25,136.87L533.25,126.24L534.5,110.37L539,43L539.75,34.75L540.25,30.74L540.75,28.12L541.25,27.01L541.5,27.03L541.75,27.44L542.25,29.39L542.75,32.75L543.5,40.03L544.5,52.7L547.75,99.59L548.75,111.76L549.75,121.94L550.75,129.89L552,136.58L552.5,138.25L553,139.33L553.5,139.79L554,139.65L554.5,138.93L555,137.67L556,133.51L556.75,128.92L557.75,120.81L558.75,110.53L559.75,98.24L563,51.57L564,38.82L564.75,31.37L565.25,27.77L565.75,25.43L566,24.77L566.25,24.46L566.5,24.51L566.75,24.91L567.25,26.77L567.75,29.96L568.5,36.86L569.75,52.38L573.75,109.31L575.25,126.32L576.75,139.79L578.5,151.69L580.25,160.04L581.25,163.68L582.5,167.44L584,171.27L585.25,173.75L589.75,181.18L590.5,182.12L592,183.52L593.75,186.06L594.5,186.88L596.25,188.32L597.75,189.34L599.5,191.47L600,191.86L601.75,192.31L605.5,195.11L606,195.23L607.25,195.03L607.75,195.19L609,196.34L609.75,196.79L611.5,197.08L613.25,197.04L613.75,197.29L615.25,198.54L615.75,198.57L616.75,198.16L617.5,198.11L619.5,198.77L621,199.53L621.5,199.5L622.5,198.91L623,198.75L623.5,198.89L624.5,199.64L625.25,199.94L627,199.91L628.5,199.47L629,199.48L630.5,200.6L631,200.74L632.5,200.05L633,199.98L634.75,200.29L636.25,201.02L636.75,201.1L637.25,200.91L638.25,200.2L638.75,200.12L640.25,200.99L640.75,201.13L642.5,201.09L644,200.51L644.5,200.47L645,200.71L646.25,201.65L646.75,201.65L648,200.99L648.75,200.89L650.5,201.12L651.75,201.79L652.25,201.89L652.75,201.71L654,200.84L654.5,200.87L656,201.7L656.75,201.78L658.25,201.71L659.5,201.1L660,201.01L660.5,201.23L661.5,202.06L662,202.23L662.5,202.1L663.75,201.49L665.25,201.44L666,201.54L667.25,202.25L667.75,202.38L668.25,202.2L669.25,201.42" fill="none" stroke="#f2d98f" stroke-width="1.2" stroke-linejoin="round"/>
<path d="M406.5,201.5L407.25,201L408,200.89L409.5,201.07L411,201.61L411.5,201.63L412,201.37L413,200.55L413.5,200.44L415,201.21L415.75,201.28L417.5,200.94L419,200.25L419.5,200.32L420.75,201.17L421.25,201.26L422.75,200.37L423.5,200.21L425.25,200.31L426.5,200.81L427,200.83L427.5,200.58L428.5,199.74L429,199.58L430.5,200.21L431,200.29L432.75,200.03L434.25,199.24L434.75,199.11L435.25,199.26L436.5,199.99L437,199.92L438.25,199.1L439,198.87L440.75,198.76L442,199.17L442.5,199.18L443,198.92L444,198L444.5,197.78L445,197.81L446,198.15L447,198.09L448.5,197.66L450.25,196.53L450.75,196.55L451.75,196.97L452.25,196.96L454,195.7L455.5,195.02L456.25,194.75L457.5,194.71L458,194.55L460,192.4L461.5,191.74L462.25,191.17L463.25,190.14L464,189.15L467,183.51L468.25,180.03L470.25,171.64L472,161.47L473.5,150.08L475,135.9L480.25,77.04L481.25,68.98L481.75,66.18L482.25,64.33L482.75,63.49L483,63.45L483.5,64.1L484.25,66.84L485,71.48L486.25,82.26L489.5,115.02L490.75,125.28L491.75,131.82L492.5,135.62L493.5,139.12L494,140.22L494.5,140.9L495,141.14L495.25,141.09L495.75,140.67L496.25,139.8L497.25,136.81L498.25,132.08L499,127.28L500.75,112.22L504,76.84L505.25,64.8L506,59.22L506.5,56.47L507,54.63L507.5,53.75L507.75,53.68L508,53.85L508.25,54.27L508.75,55.8L509.25,58.22L510,63.34L511.25,74.75L515,114.1L516.5,126.41L518,135.69L519,140.49L520.25,145.43L522.25,151.97L523.75,156.2L524.75,158.29L525.75,159.56L526.25,159.81L526.75,159.76L527.5,159.12L528.25,157.78L528.75,156.48L529.5,153.78L530,151.42L531.25,143.44L532.25,134.84L533.5,121.25L534.75,104.81L539,40.19L539.75,31.89L540.25,27.83L540.75,25.18L541.25,24.05L541.5,24.07L541.75,24.48L542.25,26.44L542.75,29.81L543.5,37.17L544.5,50.15L547.75,97.7L549,112.9L550,122.87L551,130.66L552,136.01L552.5,137.77L553.25,139.29L553.75,139.56L554.25,139.22L555,137.54L556,133.17L556.75,128.32L557.75,119.78L559.75,96.53L563,49.06L564,36.07L564.75,28.47L565.25,24.81L565.75,22.47L566,21.83L566.25,21.54L566.5,21.61L566.75,22.03L567.25,23.91L567.75,27.09L568.5,34.05L569.75,49.93L572.5,90.83L574,110.78L575.75,129.94L577.25,142.56L578.25,149.2L579.25,154.64L580.25,159.1L581.5,163.73L582.5,166.77L583.75,169.85L585.25,172.97L587.75,177.61L588.5,178.77L590.25,180.8L592.5,184.1L594.25,185.96L596,187.29L597.5,189.34L598,189.84L600.25,190.97L601.75,192.05L603.25,193.52L603.75,193.86L604.25,193.96L605.25,193.84L605.75,193.98L607.5,195.43L609.25,196.16L609.75,196.26L611,196.09L611.5,196.17L613,197.5L613.5,197.76L615.25,197.49L617,197.78L617.5,197.96L618.75,198.83L619.25,199.01L619.75,198.91L620.75,198.32L621.25,198.26L623,199.19L624.75,199.55L625.5,199.47L626.5,198.99L627,198.94L627.5,199.17L628.5,200.03L629,200.23L629.5,200.17L630.75,199.72L632.5,199.68L633.25,199.91L634.25,200.59L634.75,200.76L635.25,200.63L636.25,199.92L636.75,199.78L637.25,199.91L638.5,200.54L640.25,200.87L641,200.76L642,200.17L642.5,200.05L643,200.24L644,201.07L644.5,201.27L645,201.22L646.25,200.75L648.25,200.57L648.75,200.73L649.75,201.43L650.25,201.62L650.75,201.49L651.75,200.75L652.25,200.57L652.75,200.66L654,201.21L656,201.6L656.5,201.48L657.75,200.72L658.25,200.7L659.5,201.62L660,201.84L660.5,201.81L661.75,201.36L663.5,201.05L664.25,201.19L665.25,201.91L665.75,202.12L666.25,202.02L667.25,201.27L667.75,201.07L668.25,201.11L669.25,201.52" fill="none" stroke="#d5f0a0" stroke-width="1.2" stroke-linejoin="round"/>
<path d="M406.5,201.4L407.25,201.56L408.75,200.54L409.25,200.44L412.5,201.18L413,201.16L414.75,200.04L415.25,200.11L416.5,200.9L417,200.97L420.5,199.88L421,199.96L422.5,200.83L423,200.72L424.25,199.81L424.75,199.67L426.75,199.94L428.25,200.29L428.75,200.16L430.25,199.07L430.75,199.08L432,199.76L432.5,199.82L434.5,199.25L435.75,198.66L436.25,198.56L436.75,198.71L437.75,199.31L438.25,199.35L439.75,198.32L440.25,198.13L442.25,198.12L443.5,198.36L444,198.32L444.5,198.03L445.5,197.12L446,196.89L446.5,196.95L447.5,197.31L448.25,197.25L450,196.52L451.75,195.45L452.25,195.46L453.25,195.77L453.75,195.7L455.75,194.04L457.75,193.2L459,192.86L459.5,192.58L461.5,190.09L462.75,189.25L463.5,188.5L465.25,185.61L466.25,183.3L467.5,179.83L469,174.83L470.75,165.84L472.25,155.6L473.75,142.6L475,129.64L479,79.75L480.25,65.63L481.5,55.41L482.25,51.97L482.75,51.01L483,50.94L483.25,51.16L483.5,51.65L484,53.42L484.5,56.14L485.25,61.71L486.5,73.87L489.75,109.59L490.75,118.81L491.75,126.3L492.75,131.97L493.75,135.75L494.25,136.87L494.75,137.44L495.25,137.48L495.75,136.99L496.5,135.25L497.25,132.29L498,128.16L499,120.97L500.75,104.12L504,64.62L505.25,51.12L506,44.88L506.5,41.77L507.25,38.95L507.5,38.56L507.75,38.45L508,38.64L508.25,39.11L508.75,40.88L509.25,43.7L510,49.56L511,59.71L513.75,92.41L515.25,108.66L516.5,119.77L518,129.96L519,135.17L520.5,141.47L522,146.85L523.5,151.32L524.75,154.21L525.75,155.65L526.25,156.02L526.75,156.13L527.25,155.97L527.75,155.5L528.5,154.12L529,152.74L530.25,147.54L531.5,139.38L532.5,130.42L533.5,119.36L534.75,102.8L539,37.75L539.75,29.38L540.25,25.3L540.75,22.64L541.25,21.51L541.5,21.55L541.75,21.98L542.25,24L542.75,27.47L543.5,34.93L544.5,47.93L547.75,96.13L549,111.58L550,121.72L551.25,131.36L552.25,136.53L552.75,138.18L553.25,139.15L553.75,139.46L554.25,139.1L554.75,138.09L555.25,136.45L556,132.78L556.75,127.7L557.75,118.9L558.75,107.97L559.75,95.1L563,47.02L564,33.85L564.75,26.13L565.25,22.38L565.75,19.95L566,19.27L566.25,18.95L566.5,19.02L566.75,19.45L567.25,21.41L567.75,24.73L568.5,31.87L569.75,47.91L572.5,89.26L574,109.57L575.5,126.34L577.25,141.58L579,152.58L580,157.33L581,161.25L582.25,165.28L583.75,169.32L584.75,171.46L587,175.56L589.5,179.73L591.75,182.21L593.5,184.82L595.5,186.77L597.5,188.27L599.25,190.48L599.75,190.81L601,191.12L601.5,191.38L605,194.14L605.5,194.32L606.75,194.15L607.25,194.28L608.75,195.62L609.5,196L611.25,196.34L612.5,196.24L613,196.34L614.75,197.78L615.25,197.86L616.5,197.44L617,197.43L618.75,197.94L620.25,198.77L620.75,198.91L621.25,198.79L622.25,198.2L622.75,198.15L624.25,199.1L625,199.32L626.75,199.31L628,198.88L628.5,198.86L629,199.1L630,199.96L630.5,200.14L631,200.03L632,199.53L632.5,199.44L634.5,199.75L635.75,200.43L636.25,200.56L636.75,200.41L637.75,199.69L638.25,199.57L638.75,199.74L639.75,200.38L640.5,200.58L642.25,200.55L643.5,199.99L644,199.91L644.5,200.11L645.5,200.95L646,201.15L646.5,201.05L647.75,200.45L648.5,200.4L650,200.55L651.25,201.25L651.75,201.39L652.25,201.25L653.25,200.49L653.75,200.32L654.25,200.45L655.5,201.14L657.5,201.3L659.5,200.5L660,200.67L661,201.5L661.5,201.71L662,201.63L663.25,201.04L665,200.93L665.75,201.09L666.75,201.72L667.25,201.9L667.75,201.77L668.75,200.99L669.25,200.79" fill="none" stroke="#92d966" stroke-width="1.2" stroke-linejoin="round"/>
<path d="M406.5,200.22L407.25,200.15L407.75,200.29L409,201.64L409.5,201.85L410,201.46L411,199.83L411.5,199.49L412,199.7L413.25,200.82L415,201.08L415.75,200.71L416.75,199.43L417.25,199.15L417.75,199.46L418.75,200.98L419.25,201.3L419.75,201.07L421,199.87L422.5,199.39L423,199.35L423.5,199.61L424.5,200.79L425,201.05L425.5,200.7L426.5,199.08L427,198.68L427.5,198.81L428.75,199.77L430.5,200.12L431.25,199.77L432.5,198.16L433,198.09L433.5,198.58L434.25,199.67L434.75,199.99L435.25,199.81L436.5,198.67L438.5,197.85L439,198.03L440.25,199.33L440.75,199.31L442.25,197.18L442.75,196.95L444.25,197.69L445.75,197.94L446.25,197.91L446.75,197.57L447.75,196.11L448.25,195.63L448.75,195.71L450,196.98L450.5,196.98L452,195.6L454,194.21L454.5,194.2L455.5,194.92L456,195.03L456.5,194.62L457.5,192.86L458,192.22L458.5,191.95L459.75,191.79L461.5,190.94L462.25,190.05L463.75,186.97L464.25,186.37L465,185.83L465.5,185.28L466.25,183.73L467.5,179.95L468.5,176.38L469.5,172.11L471,164.32L472.5,153.65L474,140.04L475.5,123.84L480.25,62.97L481.25,53.44L481.75,50L482.25,47.67L482.75,46.58L483,46.52L483.25,46.78L483.5,47.35L484,49.38L484.75,54.4L485.75,64.01L489.25,104.02L490.5,115.91L491.5,123.51L492.5,129.27L493.25,132.26L493.75,133.61L494.25,134.47L494.75,134.9L495.25,134.94L495.75,134.59L496.25,133.79L496.75,132.48L497.25,130.65L498.25,125.41L499.25,118.15L501.25,98.13L505.25,49.32L506,42.53L506.5,39.14L507,36.84L507.5,35.74L507.75,35.67L508,35.9L508.5,37.27L509,39.76L509.75,45.34L510.75,55.56L514.75,103.54L516.25,117.55L518,129.98L519,135.09L520.5,141.01L522.25,146.81L523.75,150.89L524.75,152.74L525.25,153.35L526,153.95L526.5,154.18L527,154.22L527.5,154.01L528,153.48L528.75,152.02L529.25,150.56L530.5,144.98L531.5,138.21L532.75,126.93L533.75,115.52L534.75,101.91L538,50.46L539,36.26L539.75,27.77L540.25,23.55L540.75,20.73L541.25,19.49L541.5,19.51L541.75,19.94L542.25,22.03L542.75,25.62L543.5,33.29L544.5,46.54L548,98.38L549,110.84L550,121.13L551.25,130.84L552.25,136.1L552.75,137.8L553.25,138.87L553.75,139.29L554.25,139.04L555,137.35L556,132.53L556.75,127.17L557.75,118.15L559.75,94.2L563,45.38L564,32.24L564.75,24.54L565.25,20.76L565.75,18.26L566.25,17.2L566.5,17.23L566.75,17.65L567.25,19.58L567.75,22.9L568.5,30.1L569.5,42.9L572.5,88.03L574,108.58L575.5,125.64L577,139.01L578.75,150.49L579.75,155.71L580.75,159.94L581.75,163.31L583,166.84L586.25,174.26L586.75,175.06L588.25,176.85L590,179.95L591.75,182.54L592.5,183.3L593.5,183.73L594,184.11L594.5,184.85L595.5,186.84L596.25,187.79L597.75,188.39L599.75,189.61L600.25,190.2L601.25,191.91L601.75,192.49L602.25,192.58L603.25,191.98L603.75,191.98L604.25,192.37L605.5,193.81L607.5,195.29L608,195.26L609.25,194.37L609.75,194.52L611,196.48L611.5,196.98L612,197.03L613.25,196.57L615.25,196.4L615.75,196.76L617,198.54L617.5,198.7L618,198.3L618.75,197.35L619.25,197.06L619.5,197.1L621,198.23L623,199.32L623.5,199.14L624.5,197.93L625,197.61L625.5,197.88L626.75,199.7L627.25,199.92L630.25,198.63L630.75,198.52L631.25,198.79L632.25,200.27L632.75,200.73L633.25,200.58L634.25,199.23L634.75,198.84L635,198.83L638.25,200.77L638.75,200.81L639.25,200.39L640,199.29L640.5,198.87L641,199.06L642.25,200.82L642.75,201.06L644.75,200.24L646.25,199.44L646.75,199.66L647.75,201.15L648.25,201.66L648.75,201.56L650,199.93L650.5,199.71L652.5,200.64L653.75,201.56L654.25,201.64L654.75,201.23L655.75,199.75L656.25,199.54L656.75,199.96L657.75,201.38L658.25,201.65L660.25,200.95L661.75,199.95L662,199.97L662.5,200.39L663.25,201.63L663.75,202.19L664,202.24L664.25,202.14L665.5,200.54L666,200.28L666.5,200.37L668,201.01L669.25,202.03" fill="none" stroke="#3a9a48" stroke-width="1.45" stroke-linejoin="round"/>
<text x="659" y="38.9" font-size="12.3" fill="#3a9a48" text-anchor="end" font-weight="bold" textLength="51" lengthAdjust="spacingAndGlyphs" >438 min</text>
<text x="659" y="52.3" font-size="12.3" fill="#92d966" text-anchor="end" font-weight="bold" textLength="51" lengthAdjust="spacingAndGlyphs" >371 min</text>
<text x="659" y="65.7" font-size="12.3" fill="#d5f0a0" text-anchor="end" font-weight="bold" textLength="51" lengthAdjust="spacingAndGlyphs" >304 min</text>
<text x="659" y="79.1" font-size="12.3" fill="#f2d98f" text-anchor="end" font-weight="bold" textLength="51" lengthAdjust="spacingAndGlyphs" >237 min</text>
<text x="659" y="92.5" font-size="12.3" fill="#efa565" text-anchor="end" font-weight="bold" textLength="51" lengthAdjust="spacingAndGlyphs" >170 min</text>
<text x="659" y="105.9" font-size="12.3" fill="#e8603f" text-anchor="end" font-weight="bold" textLength="51" lengthAdjust="spacingAndGlyphs" >103 min</text>
<text x="659" y="119.3" font-size="12.3" fill="#d72e2b" text-anchor="end" font-weight="bold" textLength="45" lengthAdjust="spacingAndGlyphs" >36 min</text>
<rect x="449" y="98" width="3.8" height="61.5" fill="#707070"/>
<polygon points="450.9,82.2 445.6,99.6 456.2,99.6" fill="#707070"/>
<text x="450.7" y="173.3" font-size="12" fill="#707070" text-anchor="middle" font-weight="bold" textLength="27.3" lengthAdjust="spacingAndGlyphs" >&#945;-N3</text>
<line x1="406.1" y1="216.9" x2="669.6" y2="216.9" stroke="#000" stroke-width="1.6" />
<line x1="444.8" y1="216.6" x2="444.8" y2="222.5" stroke="#000" stroke-width="1.4" />
<line x1="418.1" y1="216.6" x2="418.1" y2="220" stroke="#000" stroke-width="1.4" />
<line x1="498.1" y1="216.6" x2="498.1" y2="222.5" stroke="#000" stroke-width="1.4" />
<line x1="471.4" y1="216.6" x2="471.4" y2="220" stroke="#000" stroke-width="1.4" />
<line x1="551.4" y1="216.6" x2="551.4" y2="222.5" stroke="#000" stroke-width="1.4" />
<line x1="524.7" y1="216.6" x2="524.7" y2="220" stroke="#000" stroke-width="1.4" />
<line x1="604.7" y1="216.6" x2="604.7" y2="222.5" stroke="#000" stroke-width="1.4" />
<line x1="578" y1="216.6" x2="578" y2="220" stroke="#000" stroke-width="1.4" />
<line x1="658" y1="216.6" x2="658" y2="222.5" stroke="#000" stroke-width="1.4" />
<line x1="631.3" y1="216.6" x2="631.3" y2="220" stroke="#000" stroke-width="1.4" />
<text x="447.3" y="235.2" font-size="12.6" fill="#000" text-anchor="middle" font-weight="bold" textLength="24.6" lengthAdjust="spacingAndGlyphs" >5.17</text>
<text x="500.9" y="235.2" font-size="12.6" fill="#000" text-anchor="middle" font-weight="bold" textLength="24.6" lengthAdjust="spacingAndGlyphs" >5.16</text>
<text x="554.5" y="235.2" font-size="12.6" fill="#000" text-anchor="middle" font-weight="bold" textLength="24.6" lengthAdjust="spacingAndGlyphs" >5.15</text>
<text x="608.1" y="235.2" font-size="12.6" fill="#000" text-anchor="middle" font-weight="bold" textLength="24.6" lengthAdjust="spacingAndGlyphs" >5.14</text>
<text x="656.4" y="235.2" font-size="12.6" fill="#000" text-anchor="middle" font-weight="bold" textLength="34.5" lengthAdjust="spacingAndGlyphs" >[ppm]</text>
<text x="406.3" y="33.2" font-size="21" fill="#000" text-anchor="start" font-weight="bold" >b</text>
<ellipse cx="71.2" cy="301.44" rx="2.1" ry="2.9" fill="#f5291c"/>
<line x1="41.9" y1="287.1" x2="41.9" y2="396" stroke="#000" stroke-width="1.3" />
<line x1="37.7" y1="395.4" x2="203.3" y2="395.4" stroke="#000" stroke-width="1.3" />
<line x1="37.7" y1="368.4" x2="41.9" y2="368.4" stroke="#000" stroke-width="1.3" />
<line x1="37.7" y1="341.4" x2="41.9" y2="341.4" stroke="#000" stroke-width="1.3" />
<line x1="37.7" y1="314.4" x2="41.9" y2="314.4" stroke="#000" stroke-width="1.3" />
<line x1="37.7" y1="287.4" x2="41.9" y2="287.4" stroke="#000" stroke-width="1.3" />
<line x1="41.9" y1="395.4" x2="41.9" y2="399.8" stroke="#000" stroke-width="1.3" />
<line x1="71.2" y1="395.4" x2="71.2" y2="399.8" stroke="#000" stroke-width="1.3" />
<line x1="100.5" y1="395.4" x2="100.5" y2="399.8" stroke="#000" stroke-width="1.3" />
<line x1="129.8" y1="395.4" x2="129.8" y2="399.8" stroke="#000" stroke-width="1.3" />
<line x1="159.1" y1="395.4" x2="159.1" y2="399.8" stroke="#000" stroke-width="1.3" />
<line x1="188.4" y1="395.4" x2="188.4" y2="399.8" stroke="#000" stroke-width="1.3" />
<text x="36.9" y="401.3" font-size="11.4" fill="#000" text-anchor="end" font-weight="bold" textLength="5.25" lengthAdjust="spacingAndGlyphs" >0</text>
<text x="36.9" y="374.3" font-size="11.4" fill="#000" text-anchor="end" font-weight="bold" textLength="10.5" lengthAdjust="spacingAndGlyphs" >25</text>
<text x="36.9" y="347.3" font-size="11.4" fill="#000" text-anchor="end" font-weight="bold" textLength="10.5" lengthAdjust="spacingAndGlyphs" >50</text>
<text x="36.9" y="320.3" font-size="11.4" fill="#000" text-anchor="end" font-weight="bold" textLength="10.5" lengthAdjust="spacingAndGlyphs" >75</text>
<text x="36.9" y="293.3" font-size="11.4" fill="#000" text-anchor="end" font-weight="bold" textLength="15.75" lengthAdjust="spacingAndGlyphs" >100</text>
<text x="42" y="411" font-size="11" fill="#000" text-anchor="middle" font-weight="bold" textLength="5.3" lengthAdjust="spacingAndGlyphs" >0</text>
<text x="71.3" y="411" font-size="11" fill="#000" text-anchor="middle" font-weight="bold" textLength="5.3" lengthAdjust="spacingAndGlyphs" >2</text>
<text x="100.6" y="411" font-size="11" fill="#000" text-anchor="middle" font-weight="bold" textLength="5.3" lengthAdjust="spacingAndGlyphs" >4</text>
<text x="129.9" y="411" font-size="11" fill="#000" text-anchor="middle" font-weight="bold" textLength="5.3" lengthAdjust="spacingAndGlyphs" >6</text>
<text x="159.2" y="411" font-size="11" fill="#000" text-anchor="middle" font-weight="bold" textLength="5.3" lengthAdjust="spacingAndGlyphs" >8</text>
<text x="188.5" y="411" font-size="11" fill="#000" text-anchor="middle" font-weight="bold" textLength="10.6" lengthAdjust="spacingAndGlyphs" >10</text>
<text x="131.8" y="424.6" font-size="12.3" fill="#000" text-anchor="middle" font-weight="bold" textLength="65.3" lengthAdjust="spacingAndGlyphs" >Time (mins)</text>
<text x="0" y="0" font-size="11.2" font-weight="bold" fill="#000" textLength="106.5" lengthAdjust="spacingAndGlyphs" transform="translate(21.1,400.6) rotate(-90)">Concentration (&#181;M)</text>
<text x="122.9" y="287.5" font-size="16.6" fill="#f5291c" text-anchor="middle" font-weight="bold" textLength="23.2" lengthAdjust="spacingAndGlyphs" >N5</text>
<polyline points="71.2,301.44 100.5,302.52 129.8,305.22 159.1,311.16 188.4,314.94" fill="none" stroke="#f5291c" stroke-width="1.0"/>
<polygon points="71.2,298.94 73.2,301.44 71.2,303.94 69.2,301.44" fill="#f5291c"/>
<polygon points="100.5,300.02 102.5,302.52 100.5,305.02 98.5,302.52" fill="#f5291c"/>
<polygon points="129.8,302.72 131.8,305.22 129.8,307.72 127.8,305.22" fill="#f5291c"/>
<polygon points="159.1,308.66 161.1,311.16 159.1,313.66 157.1,311.16" fill="#f5291c"/>
<polygon points="188.4,312.44 190.4,314.94 188.4,317.44 186.4,314.94" fill="#f5291c"/>
<polyline points="71.2,384.06 100.5,379.74 129.8,373.26 159.1,367.86 188.4,361.38" fill="none" stroke="#f5291c" stroke-width="1.0"/>
<rect x="69.1" y="381.96" width="4.2" height="4.2" fill="#f5291c"/>
<rect x="98.4" y="377.64" width="4.2" height="4.2" fill="#f5291c"/>
<rect x="127.7" y="371.16" width="4.2" height="4.2" fill="#f5291c"/>
<rect x="157" y="365.76" width="4.2" height="4.2" fill="#f5291c"/>
<rect x="186.3" y="359.28" width="4.2" height="4.2" fill="#f5291c"/>
<polyline points="71.2,394.32 100.5,392.16 129.8,384.28 159.1,381.04 188.4,375.42" fill="none" stroke="#000" stroke-width="1.0"/>
<polygon points="71.2,391.56 73.5,396.16 68.9,396.16" fill="#000"/>
<polygon points="100.5,389.4 102.8,394 98.2,394" fill="#000"/>
<polygon points="129.8,381.52 132.1,386.12 127.5,386.12" fill="#000"/>
<polygon points="159.1,378.28 161.4,382.88 156.8,382.88" fill="#000"/>
<polygon points="188.4,372.66 190.7,377.26 186.1,377.26" fill="#000"/>
<text x="192" y="320.2" font-size="11.3" fill="#f5291c" text-anchor="start" font-weight="bold" textLength="15.2" lengthAdjust="spacingAndGlyphs" >N5</text>
<text x="192" y="363.8" font-size="11.3" fill="#f5291c" text-anchor="start" font-weight="bold" textLength="15.2" lengthAdjust="spacingAndGlyphs" >N2</text>
<text x="192" y="379.3" font-size="11.3" fill="#000" text-anchor="start" font-weight="bold" textLength="15.2" lengthAdjust="spacingAndGlyphs" >N3</text>
<text x="3.4" y="273.6" font-size="21" fill="#000" text-anchor="start" font-weight="bold" >c</text>
<line x1="258.2" y1="287.1" x2="258.2" y2="396" stroke="#000" stroke-width="1.3" />
<line x1="254" y1="395.4" x2="419.6" y2="395.4" stroke="#000" stroke-width="1.3" />
<line x1="254" y1="368.4" x2="258.2" y2="368.4" stroke="#000" stroke-width="1.3" />
<line x1="254" y1="341.4" x2="258.2" y2="341.4" stroke="#000" stroke-width="1.3" />
<line x1="254" y1="314.4" x2="258.2" y2="314.4" stroke="#000" stroke-width="1.3" />
<line x1="254" y1="287.4" x2="258.2" y2="287.4" stroke="#000" stroke-width="1.3" />
<line x1="258.2" y1="395.4" x2="258.2" y2="399.8" stroke="#000" stroke-width="1.3" />
<line x1="287.5" y1="395.4" x2="287.5" y2="399.8" stroke="#000" stroke-width="1.3" />
<line x1="316.8" y1="395.4" x2="316.8" y2="399.8" stroke="#000" stroke-width="1.3" />
<line x1="346.1" y1="395.4" x2="346.1" y2="399.8" stroke="#000" stroke-width="1.3" />
<line x1="375.4" y1="395.4" x2="375.4" y2="399.8" stroke="#000" stroke-width="1.3" />
<line x1="404.7" y1="395.4" x2="404.7" y2="399.8" stroke="#000" stroke-width="1.3" />
<text x="253.2" y="401.3" font-size="11.4" fill="#000" text-anchor="end" font-weight="bold" textLength="5.25" lengthAdjust="spacingAndGlyphs" >0</text>
<text x="253.2" y="374.3" font-size="11.4" fill="#000" text-anchor="end" font-weight="bold" textLength="10.5" lengthAdjust="spacingAndGlyphs" >25</text>
<text x="253.2" y="347.3" font-size="11.4" fill="#000" text-anchor="end" font-weight="bold" textLength="10.5" lengthAdjust="spacingAndGlyphs" >50</text>
<text x="253.2" y="320.3" font-size="11.4" fill="#000" text-anchor="end" font-weight="bold" textLength="10.5" lengthAdjust="spacingAndGlyphs" >75</text>
<text x="253.2" y="293.3" font-size="11.4" fill="#000" text-anchor="end" font-weight="bold" textLength="15.75" lengthAdjust="spacingAndGlyphs" >100</text>
<text x="258.3" y="411" font-size="11" fill="#000" text-anchor="middle" font-weight="bold" textLength="5.3" lengthAdjust="spacingAndGlyphs" >0</text>
<text x="287.6" y="411" font-size="11" fill="#000" text-anchor="middle" font-weight="bold" textLength="5.3" lengthAdjust="spacingAndGlyphs" >2</text>
<text x="316.9" y="411" font-size="11" fill="#000" text-anchor="middle" font-weight="bold" textLength="5.3" lengthAdjust="spacingAndGlyphs" >4</text>
<text x="346.2" y="411" font-size="11" fill="#000" text-anchor="middle" font-weight="bold" textLength="5.3" lengthAdjust="spacingAndGlyphs" >6</text>
<text x="375.5" y="411" font-size="11" fill="#000" text-anchor="middle" font-weight="bold" textLength="5.3" lengthAdjust="spacingAndGlyphs" >8</text>
<text x="404.8" y="411" font-size="11" fill="#000" text-anchor="middle" font-weight="bold" textLength="10.6" lengthAdjust="spacingAndGlyphs" >10</text>
<text x="348.1" y="424.6" font-size="12.3" fill="#000" text-anchor="middle" font-weight="bold" textLength="65.3" lengthAdjust="spacingAndGlyphs" >Time (mins)</text>
<text x="0" y="0" font-size="11.2" font-weight="bold" fill="#000" textLength="106.5" lengthAdjust="spacingAndGlyphs" transform="translate(237.4,400.6) rotate(-90)">Concentration (&#181;M)</text>
<text x="339.2" y="287.5" font-size="16.6" fill="#f5291c" text-anchor="middle" font-weight="bold" textLength="23.2" lengthAdjust="spacingAndGlyphs" >N6</text>
<polyline points="287.5,301.98 316.8,306.3 344.63,307.92 372.47,311.7 401.77,311.7" fill="none" stroke="#f5291c" stroke-width="1.0"/>
<polyline points="287.5,386.76 316.8,384.82 344.63,382.44 372.47,380.28 401.77,380.28" fill="none" stroke="#f5291c" stroke-width="1.0"/>
<rect x="285.4" y="384.66" width="4.2" height="4.2" fill="#f5291c"/>
<rect x="314.7" y="382.72" width="4.2" height="4.2" fill="#f5291c"/>
<rect x="342.53" y="380.34" width="4.2" height="4.2" fill="#f5291c"/>
<rect x="370.37" y="378.18" width="4.2" height="4.2" fill="#f5291c"/>
<rect x="399.67" y="378.18" width="4.2" height="4.2" fill="#f5291c"/>
<polyline points="287.5,391.62 316.8,389.46 344.63,386.98 372.47,385.46 401.77,384.92" fill="none" stroke="#000" stroke-width="1.0"/>
<circle cx="287.5" cy="391.62" r="2.2" fill="#000"/>
<circle cx="316.8" cy="389.46" r="2.2" fill="#000"/>
<circle cx="344.63" cy="386.98" r="2.2" fill="#000"/>
<circle cx="372.47" cy="385.46" r="2.2" fill="#000"/>
<circle cx="401.77" cy="384.92" r="2.2" fill="#000"/>
<polyline points="287.5,395.08 316.8,392.38 344.63,388.6 372.47,385.68 401.77,385.36" fill="none" stroke="#000" stroke-width="0.8"/>
<rect x="285.4" y="392.98" width="4.2" height="4.2" fill="#000"/>
<rect x="314.7" y="390.28" width="4.2" height="4.2" fill="#000"/>
<rect x="342.53" y="386.5" width="4.2" height="4.2" fill="#000"/>
<rect x="370.37" y="383.58" width="4.2" height="4.2" fill="#000"/>
<rect x="399.67" y="383.26" width="4.2" height="4.2" fill="#000"/>
<text x="408.5" y="316.6" font-size="11.3" fill="#f5291c" text-anchor="start" font-weight="bold" textLength="15.8" lengthAdjust="spacingAndGlyphs" >N6</text>
<text x="408.5" y="374.6" font-size="11.3" fill="#f5291c" text-anchor="start" font-weight="bold" textLength="15.8" lengthAdjust="spacingAndGlyphs" >N2</text>
<text x="408.5" y="384.4" font-size="11.3" fill="#000" text-anchor="start" font-weight="bold" textLength="15.8" lengthAdjust="spacingAndGlyphs" >N3</text>
<text x="408.5" y="394.2" font-size="11.3" fill="#000" text-anchor="start" font-weight="bold" textLength="15.8" lengthAdjust="spacingAndGlyphs" >N1</text>
<text x="216.6" y="274.2" font-size="21" fill="#000" text-anchor="start" font-weight="bold" >d</text>
<circle cx="287.5" cy="301.98" r="2.3" fill="none" stroke="#f5291c" stroke-width="1.1"/>
<circle cx="316.8" cy="304.68" r="2.3" fill="none" stroke="#f5291c" stroke-width="1.1"/>
<circle cx="316.8" cy="307.6" r="2.3" fill="none" stroke="#f5291c" stroke-width="1.1"/>
<circle cx="344.63" cy="307.92" r="2.3" fill="none" stroke="#f5291c" stroke-width="1.1"/>
<circle cx="372.47" cy="310.08" r="2.3" fill="none" stroke="#f5291c" stroke-width="1.1"/>
<circle cx="372.47" cy="313.1" r="2.3" fill="none" stroke="#f5291c" stroke-width="1.1"/>
<circle cx="401.77" cy="310.94" r="2.3" fill="none" stroke="#f5291c" stroke-width="1.1"/>
<circle cx="401.77" cy="312.24" r="2.3" fill="none" stroke="#f5291c" stroke-width="1.1"/>
<text x="449.1" y="273.5" font-size="21" fill="#000" text-anchor="start" font-weight="bold" >e</text>
<text x="548.5" y="285" font-size="13" font-weight="bold" fill="#000" textLength="60.5" lengthAdjust="spacingAndGlyphs"><tspan font-style="italic">An</tspan>GH71B</text>
<path d="M626,285.35 L615.73,283.17 A10.5,10.5 0 1 1 620.44,294.25 Z" fill="#a9a9a9" stroke="#6a6a6a" stroke-width="0.6"/>
<path d="M617.5,289.6 C603,293 596,303 594.6,316 C592,304 588,299 580,299 C574,299 570,304 568.5,310" fill="none" stroke="#8a8a8a" stroke-width="0.9"/>
<polygon points="568,313.8 566.72,309.51 570.66,310.21" fill="#8a8a8a"/>
<line x1="499.9" y1="319.6" x2="636.2" y2="319.6" stroke="#444" stroke-width="0.8" />
<circle cx="499.9" cy="319.6" r="9.2" fill="#3d7cc4" stroke="#1c2233" stroke-width="0.85"/>
<circle cx="526.8" cy="319.6" r="9.2" fill="#3d7cc4" stroke="#1c2233" stroke-width="0.85"/>
<circle cx="553.9" cy="319.6" r="9.2" fill="#3d7cc4" stroke="#1c2233" stroke-width="0.85"/>
<circle cx="581.2" cy="319.6" r="9.2" fill="#3d7cc4" stroke="#1c2233" stroke-width="0.85"/>
<circle cx="608.6" cy="319.6" r="9.2" fill="#3d7cc4" stroke="#1c2233" stroke-width="0.85"/>
<circle cx="636.2" cy="319.6" r="9.2" fill="#f03a12" stroke="#1a1a1a" stroke-width="0.7"/>
<text x="636.2" y="324.1" font-size="12.5" fill="#000" text-anchor="middle" font-weight="bold" >R</text>
<text x="476.6" y="325.3" font-size="13" fill="#f5291c" text-anchor="middle" font-weight="bold" textLength="16.3" lengthAdjust="spacingAndGlyphs" >N6</text>
<line x1="568.2" y1="334.5" x2="568.2" y2="350" stroke="#000" stroke-width="1.5" />
<polygon points="564.2,349 572.2,349 568.2,356.5" fill="#000"/>
<line x1="478.3" y1="368.8" x2="532.9" y2="368.8" stroke="#444" stroke-width="0.8" />
<circle cx="478.3" cy="368.8" r="9.1" fill="#3d7cc4" stroke="#1c2233" stroke-width="0.85"/>
<circle cx="505.6" cy="368.8" r="9.1" fill="#3d7cc4" stroke="#1c2233" stroke-width="0.85"/>
<circle cx="532.9" cy="368.8" r="9.1" fill="#3d7cc4" stroke="#1c2233" stroke-width="0.85"/>
<text x="543.2" y="374" font-size="14" fill="#000" text-anchor="start" font-weight="normal" >&#946;</text>
<text x="561.2" y="373.5" font-size="14" fill="#000" text-anchor="middle" font-weight="bold" >+</text>
<circle cx="581.1" cy="368.8" r="9.1" fill="#3d7cc4" stroke="#1c2233" stroke-width="0.85"/>
<text x="590.8" y="374" font-size="14" fill="#000" text-anchor="start" font-weight="normal" >&#946;</text>
<text x="609.3" y="373.5" font-size="14" fill="#000" text-anchor="middle" font-weight="bold" >+</text>
<line x1="629.3" y1="368.8" x2="655.9" y2="368.8" stroke="#444" stroke-width="0.8" />
<circle cx="629.3" cy="368.8" r="9.1" fill="#3d7cc4" stroke="#1c2233" stroke-width="0.85"/>
<circle cx="655.9" cy="368.8" r="9.1" fill="#f03a12" stroke="#1a1a1a" stroke-width="0.7"/>
<text x="655.9" y="373.3" font-size="12.5" fill="#000" text-anchor="middle" font-weight="bold" >R</text>
<line x1="638.3" y1="368.8" x2="646.9" y2="368.8" stroke="#444" stroke-width="0.8" />
<text x="508.2" y="393.8" font-size="13" fill="#000" text-anchor="middle" font-weight="bold" textLength="16.3" lengthAdjust="spacingAndGlyphs" >N3</text>
<text x="581" y="393.8" font-size="13" fill="#000" text-anchor="middle" font-weight="bold" textLength="16.3" lengthAdjust="spacingAndGlyphs" >N1</text>
<text x="641.5" y="393.8" font-size="13" fill="#f5291c" text-anchor="middle" font-weight="bold" textLength="16.3" lengthAdjust="spacingAndGlyphs" >N2</text>
<rect x="69.1" y="566.81" width="4.2" height="4.2" fill="#f5291c"/>
<rect x="183.37" y="554.28" width="4.2" height="4.2" fill="#f5291c"/>
<ellipse cx="71.2" cy="510.7" rx="2.1" ry="2.8" fill="#f5291c"/>
<line x1="41.9" y1="475.3" x2="41.9" y2="584.2" stroke="#000" stroke-width="1.3" />
<line x1="37.7" y1="583.6" x2="203.3" y2="583.6" stroke="#000" stroke-width="1.3" />
<line x1="37.7" y1="556.6" x2="41.9" y2="556.6" stroke="#000" stroke-width="1.3" />
<line x1="37.7" y1="529.6" x2="41.9" y2="529.6" stroke="#000" stroke-width="1.3" />
<line x1="37.7" y1="502.6" x2="41.9" y2="502.6" stroke="#000" stroke-width="1.3" />
<line x1="37.7" y1="475.6" x2="41.9" y2="475.6" stroke="#000" stroke-width="1.3" />
<line x1="41.9" y1="583.6" x2="41.9" y2="588" stroke="#000" stroke-width="1.3" />
<line x1="71.2" y1="583.6" x2="71.2" y2="588" stroke="#000" stroke-width="1.3" />
<line x1="100.5" y1="583.6" x2="100.5" y2="588" stroke="#000" stroke-width="1.3" />
<line x1="129.8" y1="583.6" x2="129.8" y2="588" stroke="#000" stroke-width="1.3" />
<line x1="159.1" y1="583.6" x2="159.1" y2="588" stroke="#000" stroke-width="1.3" />
<line x1="188.4" y1="583.6" x2="188.4" y2="588" stroke="#000" stroke-width="1.3" />
<text x="36.9" y="589.5" font-size="11.4" fill="#000" text-anchor="end" font-weight="bold" textLength="5.25" lengthAdjust="spacingAndGlyphs" >0</text>
<text x="36.9" y="562.5" font-size="11.4" fill="#000" text-anchor="end" font-weight="bold" textLength="10.5" lengthAdjust="spacingAndGlyphs" >25</text>
<text x="36.9" y="535.5" font-size="11.4" fill="#000" text-anchor="end" font-weight="bold" textLength="10.5" lengthAdjust="spacingAndGlyphs" >50</text>
<text x="36.9" y="508.5" font-size="11.4" fill="#000" text-anchor="end" font-weight="bold" textLength="10.5" lengthAdjust="spacingAndGlyphs" >75</text>
<text x="36.9" y="481.5" font-size="11.4" fill="#000" text-anchor="end" font-weight="bold" textLength="15.75" lengthAdjust="spacingAndGlyphs" >100</text>
<text x="42" y="599.2" font-size="11" fill="#000" text-anchor="middle" font-weight="bold" textLength="5.3" lengthAdjust="spacingAndGlyphs" >0</text>
<text x="71.3" y="599.2" font-size="11" fill="#000" text-anchor="middle" font-weight="bold" textLength="5.3" lengthAdjust="spacingAndGlyphs" >2</text>
<text x="100.6" y="599.2" font-size="11" fill="#000" text-anchor="middle" font-weight="bold" textLength="5.3" lengthAdjust="spacingAndGlyphs" >4</text>
<text x="129.9" y="599.2" font-size="11" fill="#000" text-anchor="middle" font-weight="bold" textLength="5.3" lengthAdjust="spacingAndGlyphs" >6</text>
<text x="159.2" y="599.2" font-size="11" fill="#000" text-anchor="middle" font-weight="bold" textLength="5.3" lengthAdjust="spacingAndGlyphs" >8</text>
<text x="188.5" y="599.2" font-size="11" fill="#000" text-anchor="middle" font-weight="bold" textLength="10.6" lengthAdjust="spacingAndGlyphs" >10</text>
<text x="131.8" y="612.8" font-size="12.3" fill="#000" text-anchor="middle" font-weight="bold" textLength="65.3" lengthAdjust="spacingAndGlyphs" >Time (mins)</text>
<text x="0" y="0" font-size="11.2" font-weight="bold" fill="#000" textLength="106.5" lengthAdjust="spacingAndGlyphs" transform="translate(21.1,588.8) rotate(-90)">Concentration (&#181;M)</text>
<text x="122.9" y="475.7" font-size="16.6" fill="#f5291c" text-anchor="middle" font-weight="bold" textLength="23.2" lengthAdjust="spacingAndGlyphs" >N5</text>
<polyline points="71.2,510.7 100.5,512.32 128.34,517.72 156.17,520.96 185.47,524.74" fill="none" stroke="#f5291c" stroke-width="1.0"/>
<polygon points="71.2,508.2 73.2,510.7 71.2,513.2 69.2,510.7" fill="#f5291c"/>
<polygon points="100.5,509.82 102.5,512.32 100.5,514.82 98.5,512.32" fill="#f5291c"/>
<polygon points="128.34,515.22 130.34,517.72 128.34,520.22 126.34,517.72" fill="#f5291c"/>
<polygon points="156.17,518.46 158.17,520.96 156.17,523.46 154.17,520.96" fill="#f5291c"/>
<polygon points="185.47,522.24 187.47,524.74 185.47,527.24 183.47,524.74" fill="#f5291c"/>
<polyline points="71.2,570.1 100.5,565.78 128.34,562.54 156.17,560.38 185.47,557.68" fill="none" stroke="#f5291c" stroke-width="1.0"/>
<rect x="69.1" y="568" width="4.2" height="4.2" fill="#f5291c"/>
<rect x="98.4" y="563.68" width="4.2" height="4.2" fill="#f5291c"/>
<rect x="126.24" y="560.44" width="4.2" height="4.2" fill="#f5291c"/>
<rect x="154.07" y="558.28" width="4.2" height="4.2" fill="#f5291c"/>
<rect x="183.37" y="555.58" width="4.2" height="4.2" fill="#f5291c"/>
<polyline points="71.2,574.42 100.5,570.1 128.34,566.32 156.17,563.62 185.47,561.46" fill="none" stroke="#000" stroke-width="1.0"/>
<polygon points="71.2,571.66 73.5,576.26 68.9,576.26" fill="#000"/>
<polygon points="100.5,567.34 102.8,571.94 98.2,571.94" fill="#000"/>
<polygon points="128.34,563.56 130.64,568.16 126.04,568.16" fill="#000"/>
<polygon points="156.17,560.86 158.47,565.46 153.87,565.46" fill="#000"/>
<polygon points="185.47,558.7 187.77,563.3 183.17,563.3" fill="#000"/>
<text x="192" y="530" font-size="11.3" fill="#f5291c" text-anchor="start" font-weight="bold" textLength="15.2" lengthAdjust="spacingAndGlyphs" >N5</text>
<text x="192" y="558.6" font-size="11.3" fill="#f5291c" text-anchor="start" font-weight="bold" textLength="15.2" lengthAdjust="spacingAndGlyphs" >N2</text>
<text x="192" y="569" font-size="11.3" fill="#000" text-anchor="start" font-weight="bold" textLength="15.2" lengthAdjust="spacingAndGlyphs" >N3</text>
<text x="5.4" y="465.2" font-size="21" fill="#000" text-anchor="start" font-weight="bold" >f</text>
<line x1="258.2" y1="475.3" x2="258.2" y2="584.2" stroke="#000" stroke-width="1.3" />
<line x1="254" y1="583.6" x2="419.6" y2="583.6" stroke="#000" stroke-width="1.3" />
<line x1="254" y1="556.6" x2="258.2" y2="556.6" stroke="#000" stroke-width="1.3" />
<line x1="254" y1="529.6" x2="258.2" y2="529.6" stroke="#000" stroke-width="1.3" />
<line x1="254" y1="502.6" x2="258.2" y2="502.6" stroke="#000" stroke-width="1.3" />
<line x1="254" y1="475.6" x2="258.2" y2="475.6" stroke="#000" stroke-width="1.3" />
<line x1="258.2" y1="583.6" x2="258.2" y2="588" stroke="#000" stroke-width="1.3" />
<line x1="287.5" y1="583.6" x2="287.5" y2="588" stroke="#000" stroke-width="1.3" />
<line x1="316.8" y1="583.6" x2="316.8" y2="588" stroke="#000" stroke-width="1.3" />
<line x1="346.1" y1="583.6" x2="346.1" y2="588" stroke="#000" stroke-width="1.3" />
<line x1="375.4" y1="583.6" x2="375.4" y2="588" stroke="#000" stroke-width="1.3" />
<line x1="404.7" y1="583.6" x2="404.7" y2="588" stroke="#000" stroke-width="1.3" />
<text x="253.2" y="589.5" font-size="11.4" fill="#000" text-anchor="end" font-weight="bold" textLength="5.25" lengthAdjust="spacingAndGlyphs" >0</text>
<text x="253.2" y="562.5" font-size="11.4" fill="#000" text-anchor="end" font-weight="bold" textLength="10.5" lengthAdjust="spacingAndGlyphs" >25</text>
<text x="253.2" y="535.5" font-size="11.4" fill="#000" text-anchor="end" font-weight="bold" textLength="10.5" lengthAdjust="spacingAndGlyphs" >50</text>
<text x="253.2" y="508.5" font-size="11.4" fill="#000" text-anchor="end" font-weight="bold" textLength="10.5" lengthAdjust="spacingAndGlyphs" >75</text>
<text x="253.2" y="481.5" font-size="11.4" fill="#000" text-anchor="end" font-weight="bold" textLength="15.75" lengthAdjust="spacingAndGlyphs" >100</text>
<text x="258.3" y="599.2" font-size="11" fill="#000" text-anchor="middle" font-weight="bold" textLength="5.3" lengthAdjust="spacingAndGlyphs" >0</text>
<text x="287.6" y="599.2" font-size="11" fill="#000" text-anchor="middle" font-weight="bold" textLength="5.3" lengthAdjust="spacingAndGlyphs" >2</text>
<text x="316.9" y="599.2" font-size="11" fill="#000" text-anchor="middle" font-weight="bold" textLength="5.3" lengthAdjust="spacingAndGlyphs" >4</text>
<text x="346.2" y="599.2" font-size="11" fill="#000" text-anchor="middle" font-weight="bold" textLength="5.3" lengthAdjust="spacingAndGlyphs" >6</text>
<text x="375.5" y="599.2" font-size="11" fill="#000" text-anchor="middle" font-weight="bold" textLength="5.3" lengthAdjust="spacingAndGlyphs" >8</text>
<text x="404.8" y="599.2" font-size="11" fill="#000" text-anchor="middle" font-weight="bold" textLength="10.6" lengthAdjust="spacingAndGlyphs" >10</text>
<text x="348.1" y="612.8" font-size="12.3" fill="#000" text-anchor="middle" font-weight="bold" textLength="65.3" lengthAdjust="spacingAndGlyphs" >Time (mins)</text>
<text x="0" y="0" font-size="11.2" font-weight="bold" fill="#000" textLength="106.5" lengthAdjust="spacingAndGlyphs" transform="translate(237.4,588.8) rotate(-90)">Concentration (&#181;M)</text>
<text x="339.2" y="475.7" font-size="16.6" fill="#f5291c" text-anchor="middle" font-weight="bold" textLength="23.2" lengthAdjust="spacingAndGlyphs" >N6</text>
<polyline points="287.5,524.42 316.8,529.28 346.1,540.94 375.4,546.88 404.7,551.42" fill="none" stroke="#f5291c" stroke-width="1.0"/>
<polyline points="287.5,563.3 316.8,562 346.1,559.3 375.4,557.14 404.7,556.06" fill="none" stroke="#f5291c" stroke-width="1.0"/>
<rect x="285.4" y="561.2" width="4.2" height="4.2" fill="#f5291c"/>
<rect x="314.7" y="559.9" width="4.2" height="4.2" fill="#f5291c"/>
<rect x="344" y="557.2" width="4.2" height="4.2" fill="#f5291c"/>
<rect x="373.3" y="555.04" width="4.2" height="4.2" fill="#f5291c"/>
<rect x="402.6" y="553.96" width="4.2" height="4.2" fill="#f5291c"/>
<polyline points="287.5,569.02 316.8,568.48 346.1,565.78 375.4,562.54 404.7,560.92" fill="none" stroke="#000" stroke-width="1.4"/>
<rect x="285.4" y="566.92" width="4.2" height="4.2" fill="#000"/>
<rect x="314.7" y="566.38" width="4.2" height="4.2" fill="#000"/>
<rect x="344" y="563.68" width="4.2" height="4.2" fill="#000"/>
<rect x="373.3" y="560.44" width="4.2" height="4.2" fill="#000"/>
<rect x="402.6" y="558.82" width="4.2" height="4.2" fill="#000"/>
<polyline points="287.5,571.18 316.8,570.1 346.1,566.86 375.4,564.16 404.7,563.08" fill="none" stroke="#000" stroke-width="1.4"/>
<circle cx="287.5" cy="571.18" r="2.2" fill="#000"/>
<circle cx="316.8" cy="570.1" r="2.2" fill="#000"/>
<circle cx="346.1" cy="566.86" r="2.2" fill="#000"/>
<circle cx="375.4" cy="564.16" r="2.2" fill="#000"/>
<circle cx="404.7" cy="563.08" r="2.2" fill="#000"/>
<polyline points="287.5,575.18 316.8,571.18 346.1,567.94 375.4,565.24 404.7,564.16" fill="none" stroke="#f5291c" stroke-width="0.9"/>
<rect x="285.4" y="573.08" width="4.2" height="4.2" fill="#f5291c"/>
<rect x="314.7" y="569.08" width="4.2" height="4.2" fill="#f5291c"/>
<rect x="344" y="565.84" width="4.2" height="4.2" fill="#f5291c"/>
<rect x="373.3" y="563.14" width="4.2" height="4.2" fill="#f5291c"/>
<rect x="402.6" y="562.06" width="4.2" height="4.2" fill="#f5291c"/>
<polyline points="287.5,582.52 316.8,581.98 346.1,581.87 375.4,581.44 404.7,581.12" fill="none" stroke="#000" stroke-width="1.4"/>
<circle cx="287.5" cy="582.52" r="2.2" fill="#000"/>
<circle cx="316.8" cy="581.98" r="2.2" fill="#000"/>
<circle cx="346.1" cy="581.87" r="2.2" fill="#000"/>
<circle cx="375.4" cy="581.44" r="2.2" fill="#000"/>
<circle cx="404.7" cy="581.12" r="2.2" fill="#000"/>
<text x="214.8" y="465.2" font-size="21" fill="#000" text-anchor="start" font-weight="bold" >g</text>
<circle cx="287.5" cy="521.72" r="2.3" fill="none" stroke="#f5291c" stroke-width="1.1"/>
<circle cx="287.5" cy="526.68" r="2.3" fill="none" stroke="#f5291c" stroke-width="1.1"/>
<circle cx="316.8" cy="528.52" r="2.3" fill="none" stroke="#f5291c" stroke-width="1.1"/>
<circle cx="316.8" cy="530.36" r="2.3" fill="none" stroke="#f5291c" stroke-width="1.1"/>
<circle cx="346.1" cy="537.92" r="2.3" fill="none" stroke="#f5291c" stroke-width="1.1"/>
<circle cx="346.1" cy="543.75" r="2.3" fill="none" stroke="#f5291c" stroke-width="1.1"/>
<circle cx="375.4" cy="544.5" r="2.3" fill="none" stroke="#f5291c" stroke-width="1.1"/>
<circle cx="375.4" cy="549.26" r="2.3" fill="none" stroke="#f5291c" stroke-width="1.1"/>
<circle cx="404.7" cy="550.77" r="2.3" fill="none" stroke="#f5291c" stroke-width="1.1"/>
<circle cx="404.7" cy="552.28" r="2.3" fill="none" stroke="#f5291c" stroke-width="1.1"/>
<rect x="285.4" y="559.36" width="4.2" height="4.2" fill="#f5291c"/>
<rect x="402.6" y="556.12" width="4.2" height="4.2" fill="#f5291c"/>
<line x1="419.7" y1="583.3" x2="419.7" y2="583.3" stroke="#000" stroke-width="1" />
<line x1="407.3" y1="561.6" x2="413.8" y2="527.5" stroke="#555" stroke-width="0.5" />
<line x1="407.3" y1="561.6" x2="413.8" y2="537.2" stroke="#555" stroke-width="0.5" />
<line x1="407.3" y1="561.6" x2="413.8" y2="546.4" stroke="#555" stroke-width="0.5" />
<line x1="407.3" y1="561.6" x2="413.8" y2="555.9" stroke="#555" stroke-width="0.5" />
<line x1="407.3" y1="564.6" x2="413.5" y2="564.6" stroke="#777" stroke-width="0.5" />
<line x1="405" y1="582.4" x2="420" y2="582.4" stroke="#000" stroke-width="1.2" />
<text x="413.6" y="531.3" font-size="10.8" fill="#f5291c" text-anchor="start" font-weight="bold" textLength="14.5" lengthAdjust="spacingAndGlyphs" >N6</text>
<text x="413.6" y="540.9" font-size="10.8" fill="#f5291c" text-anchor="start" font-weight="bold" textLength="14.5" lengthAdjust="spacingAndGlyphs" >N2</text>
<text x="413.6" y="549.9" font-size="10.8" fill="#000" text-anchor="start" font-weight="bold" textLength="14.5" lengthAdjust="spacingAndGlyphs" >N4</text>
<text x="413.6" y="559.6" font-size="10.8" fill="#000" text-anchor="start" font-weight="bold" textLength="14.5" lengthAdjust="spacingAndGlyphs" >N3</text>
<text x="413.6" y="568.6" font-size="10.8" fill="#f5291c" text-anchor="start" font-weight="bold" textLength="14.5" lengthAdjust="spacingAndGlyphs" >N3</text>
<text x="413.6" y="581.9" font-size="10.8" fill="#000" text-anchor="start" font-weight="bold" textLength="14.5" lengthAdjust="spacingAndGlyphs" >N1</text>
<text x="448.4" y="465.2" font-size="21" fill="#000" text-anchor="start" font-weight="bold" >h</text>
<text x="559" y="469.5" font-size="13" font-weight="bold" fill="#000" textLength="60.8" lengthAdjust="spacingAndGlyphs"><tspan font-style="italic">An</tspan>GH71C</text>
<path d="M637.7,475.7 L627.12,473.06 A10.9,10.9 0 1 1 632.09,485.04 Z" fill="#ecf53a" stroke="#6a6a4a" stroke-width="0.6"/>
<path d="M628.8,478 C608,474 588,478 578,490" fill="none" stroke="#8a8a8a" stroke-width="0.9"/>
<polygon points="575.8,493.3 576.84,488.95 579.9,491.52" fill="#8a8a8a"/>
<path d="M628.8,478.5 C618,482 610,486 606,491" fill="none" stroke="#8a8a8a" stroke-width="0.9"/>
<polygon points="604.3,494.2 604.96,489.78 608.23,492.07" fill="#8a8a8a"/>
<line x1="504.5" y1="497.5" x2="648.7" y2="497.5" stroke="#444" stroke-width="0.8" />
<circle cx="504.5" cy="497.5" r="9.7" fill="#3d7cc4" stroke="#1c2233" stroke-width="0.85"/>
<circle cx="533.1" cy="497.5" r="9.7" fill="#3d7cc4" stroke="#1c2233" stroke-width="0.85"/>
<circle cx="562.2" cy="497.5" r="9.7" fill="#3d7cc4" stroke="#1c2233" stroke-width="0.85"/>
<circle cx="590.9" cy="497.5" r="9.7" fill="#3d7cc4" stroke="#1c2233" stroke-width="0.85"/>
<circle cx="619.6" cy="497.5" r="9.7" fill="#3d7cc4" stroke="#1c2233" stroke-width="0.85"/>
<circle cx="648.7" cy="497.5" r="9.7" fill="#f03a12" stroke="#1a1a1a" stroke-width="0.7"/>
<text x="648.7" y="502.18" font-size="13" fill="#000" text-anchor="middle" font-weight="bold" >R</text>
<text x="481.8" y="502.7" font-size="13" fill="#f5291c" text-anchor="middle" font-weight="bold" textLength="16" lengthAdjust="spacingAndGlyphs" >N6</text>
<line x1="565.3" y1="516.9" x2="557.69" y2="522.95" stroke="#000" stroke-width="1.5" />
<polygon points="555.86,519.04 561.08,525.62 552.6,527" fill="#000"/>
<line x1="574" y1="516.9" x2="594.95" y2="537.36" stroke="#000" stroke-width="1.5" />
<polygon points="591.3,539.66 597.17,533.66 599.6,541.9" fill="#000"/>
<line x1="442.9" y1="536" x2="478.9" y2="536" stroke="#444" stroke-width="0.8" />
<circle cx="442.9" cy="536" r="6.1" fill="#3d7cc4" stroke="#1c2233" stroke-width="0.85"/>
<circle cx="461" cy="536" r="6.1" fill="#3d7cc4" stroke="#1c2233" stroke-width="0.85"/>
<circle cx="478.9" cy="536" r="6.1" fill="#3d7cc4" stroke="#1c2233" stroke-width="0.85"/>
<text x="485" y="540.8" font-size="12.3" fill="#000" text-anchor="start" font-weight="normal" >&#946;</text>
<text x="497.2" y="539.6" font-size="8.5" fill="#000" text-anchor="middle" font-weight="bold" >+</text>
<line x1="509.9" y1="536" x2="545.4" y2="536" stroke="#444" stroke-width="0.8" />
<circle cx="509.9" cy="536" r="6.1" fill="#3d7cc4" stroke="#1c2233" stroke-width="0.85"/>
<circle cx="528" cy="536" r="6.1" fill="#3d7cc4" stroke="#1c2233" stroke-width="0.85"/>
<circle cx="545.4" cy="536" r="6.1" fill="#f03a12" stroke="#1a1a1a" stroke-width="0.7"/>
<text x="545.4" y="538.88" font-size="8" fill="#000" text-anchor="middle" font-weight="bold" >R</text>
<text x="461.8" y="555.4" font-size="13" fill="#000" text-anchor="middle" font-weight="bold" textLength="16" lengthAdjust="spacingAndGlyphs" >N3</text>
<text x="528" y="555.4" font-size="13" fill="#f5291c" text-anchor="middle" font-weight="bold" textLength="16" lengthAdjust="spacingAndGlyphs" >N3</text>
<path d="M634.2,533.25 L625.92,531.34 A8.5,8.5 0 1 1 629.7,540.46 Z" fill="#ecf53a" stroke="#6a6a4a" stroke-width="0.6"/>
<path d="M627.5,536.8 C620,538 615,542 613,545" fill="none" stroke="#8a8a8a" stroke-width="0.9"/>
<polygon points="611.6,548.1 611.87,543.64 615.33,545.64" fill="#8a8a8a"/>
<line x1="567.3" y1="554.2" x2="621.4" y2="554.2" stroke="#444" stroke-width="0.8" />
<circle cx="567.3" cy="554.2" r="6.1" fill="#3d7cc4" stroke="#1c2233" stroke-width="0.85"/>
<circle cx="585" cy="554.2" r="6.1" fill="#3d7cc4" stroke="#1c2233" stroke-width="0.85"/>
<circle cx="602.8" cy="554.2" r="6.1" fill="#3d7cc4" stroke="#1c2233" stroke-width="0.85"/>
<circle cx="621.4" cy="554.2" r="6.1" fill="#3d7cc4" stroke="#1c2233" stroke-width="0.85"/>
<text x="626.8" y="559" font-size="12.3" fill="#000" text-anchor="start" font-weight="normal" >&#946;</text>
<text x="638.6" y="557.8" font-size="8.5" fill="#000" text-anchor="middle" font-weight="bold" >+</text>
<line x1="652.2" y1="554.2" x2="670.2" y2="554.2" stroke="#444" stroke-width="0.8" />
<circle cx="652.2" cy="554.2" r="6.1" fill="#3d7cc4" stroke="#1c2233" stroke-width="0.85"/>
<circle cx="670.2" cy="554.2" r="6" fill="#f03a12" stroke="#1a1a1a" stroke-width="0.7"/>
<text x="670.2" y="557.08" font-size="8" fill="#000" text-anchor="middle" font-weight="bold" >R</text>
<text x="593.9" y="573.8" font-size="13" fill="#000" text-anchor="middle" font-weight="bold" textLength="16" lengthAdjust="spacingAndGlyphs" >N4</text>
<text x="661.3" y="573.8" font-size="13" fill="#f5291c" text-anchor="middle" font-weight="bold" textLength="16" lengthAdjust="spacingAndGlyphs" >N2</text>
<line x1="621.4" y1="572.8" x2="621.4" y2="584.9" stroke="#000" stroke-width="1.6" />
<polygon points="617.1,583.9 625.7,583.9 621.4,591.9" fill="#000"/>
<line x1="574.9" y1="601.2" x2="611" y2="601.2" stroke="#444" stroke-width="0.8" />
<circle cx="574.9" cy="601.2" r="6.1" fill="#3d7cc4" stroke="#1c2233" stroke-width="0.85"/>
<circle cx="593" cy="601.2" r="6.1" fill="#3d7cc4" stroke="#1c2233" stroke-width="0.85"/>
<circle cx="611" cy="601.2" r="6.1" fill="#3d7cc4" stroke="#1c2233" stroke-width="0.85"/>
<text x="623.7" y="604" font-size="7.5" fill="#000" text-anchor="middle" font-weight="bold" >+</text>
<circle cx="637.6" cy="601.2" r="6.1" fill="#3d7cc4" stroke="#1c2233" stroke-width="0.85"/>
<text x="643.8" y="606" font-size="12.3" fill="#000" text-anchor="start" font-weight="normal" >&#946;</text>
<text x="597.7" y="621.7" font-size="13" fill="#000" text-anchor="middle" font-weight="bold" textLength="16" lengthAdjust="spacingAndGlyphs" >N3</text>
<text x="643.3" y="621.7" font-size="13" fill="#000" text-anchor="middle" font-weight="bold" textLength="16" lengthAdjust="spacingAndGlyphs" >N1</text>
</svg></body></html>
